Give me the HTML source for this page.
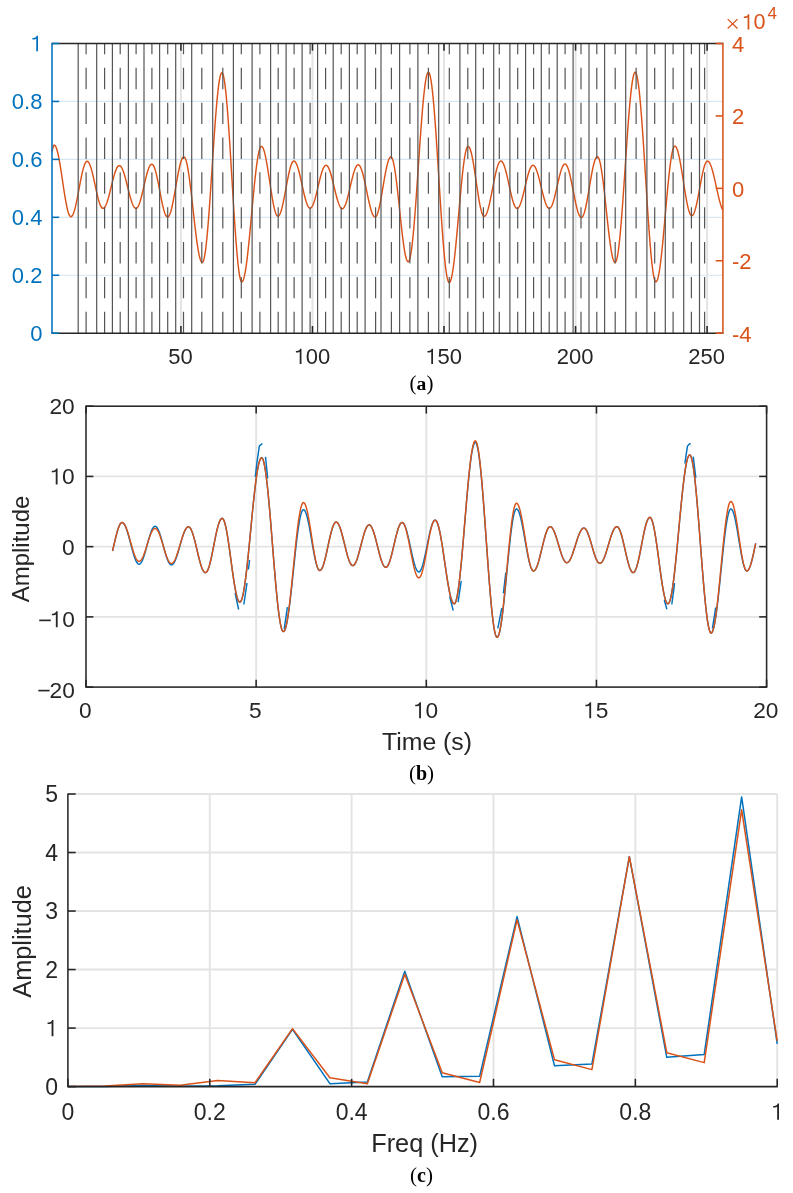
<!DOCTYPE html>
<html><head><meta charset="utf-8"><title>Figure</title>
<style>html,body{margin:0;padding:0;background:#fff;}svg{display:block;will-change:transform;}</style></head>
<body><svg width="793" height="1193" viewBox="0 0 793 1193">
<rect width="793" height="1193" fill="#fff"/>
<line x1="180.92" y1="43.5" x2="180.92" y2="333.2" stroke="#e3e3e3" stroke-width="1.9" />
<line x1="312.47" y1="43.5" x2="312.47" y2="333.2" stroke="#e3e3e3" stroke-width="1.9" />
<line x1="444.02" y1="43.5" x2="444.02" y2="333.2" stroke="#e3e3e3" stroke-width="1.9" />
<line x1="575.57" y1="43.5" x2="575.57" y2="333.2" stroke="#e3e3e3" stroke-width="1.9" />
<line x1="707.11" y1="43.5" x2="707.11" y2="333.2" stroke="#e3e3e3" stroke-width="1.9" />
<line x1="52" y1="275.26" x2="722.9" y2="275.26" stroke="#d6e6f2" stroke-width="1.2" />
<line x1="52" y1="217.32" x2="722.9" y2="217.32" stroke="#d6e6f2" stroke-width="1.2" />
<line x1="52" y1="159.38" x2="722.9" y2="159.38" stroke="#d6e6f2" stroke-width="1.2" />
<line x1="52" y1="101.44" x2="722.9" y2="101.44" stroke="#d6e6f2" stroke-width="1.2" />
<path d="M52 151.8 L52.09 151.46 L52.61 149.14 L53.14 147.06 L53.67 145.61 L54.2 145.1 L54.71 145.26 L55.21 145.75 L55.72 146.55 L56.22 147.66 L56.73 149.08 L57.24 150.78 L57.74 152.76 L58.25 154.99 L58.75 157.46 L59.26 160.13 L59.77 163 L60.27 166.03 L60.78 169.19 L61.28 172.46 L61.79 175.81 L62.3 179.2 L62.8 182.6 L63.31 185.99 L63.82 189.34 L64.32 192.61 L64.83 195.77 L65.33 198.8 L65.84 201.67 L66.35 204.34 L66.85 206.81 L67.36 209.04 L67.86 211.02 L68.37 212.72 L68.88 214.14 L69.38 215.25 L69.89 216.05 L70.39 216.54 L70.9 216.7 L71.41 216.57 L71.91 216.17 L72.42 215.51 L72.93 214.59 L73.43 213.43 L73.94 212.03 L74.44 210.41 L74.95 208.59 L75.46 206.57 L75.96 204.39 L76.47 202.06 L76.97 199.6 L77.48 197.04 L77.99 194.4 L78.49 191.72 L79 189 L79.51 186.28 L80.01 183.6 L80.52 180.96 L81.03 178.4 L81.53 175.94 L82.04 173.61 L82.54 171.43 L83.05 169.41 L83.56 167.59 L84.06 165.97 L84.57 164.57 L85.07 163.41 L85.58 162.49 L86.09 161.83 L86.59 161.43 L87.1 161.3 L87.61 161.42 L88.13 161.78 L88.64 162.38 L89.15 163.21 L89.66 164.26 L90.18 165.52 L90.69 166.98 L91.2 168.62 L91.72 170.43 L92.23 172.39 L92.74 174.48 L93.25 176.67 L93.77 178.95 L94.28 181.28 L94.79 183.66 L95.31 186.04 L95.82 188.42 L96.33 190.75 L96.85 193.03 L97.36 195.22 L97.87 197.31 L98.38 199.27 L98.9 201.08 L99.41 202.72 L99.92 204.18 L100.44 205.44 L100.95 206.49 L101.46 207.32 L101.97 207.92 L102.49 208.28 L103 208.4 L103.51 208.3 L104.02 207.99 L104.53 207.48 L105.04 206.77 L105.55 205.87 L106.06 204.79 L106.57 203.54 L107.08 202.13 L107.58 200.58 L108.09 198.89 L108.6 197.09 L109.11 195.19 L109.62 193.21 L110.13 191.17 L110.64 189.1 L111.15 187 L111.66 184.9 L112.17 182.83 L112.68 180.79 L113.19 178.81 L113.7 176.91 L114.21 175.11 L114.72 173.42 L115.22 171.87 L115.73 170.46 L116.24 169.21 L116.75 168.13 L117.26 167.23 L117.77 166.52 L118.28 166.01 L118.79 165.7 L119.3 165.6 L119.81 165.7 L120.31 165.99 L120.82 166.47 L121.32 167.13 L121.83 167.98 L122.34 169 L122.84 170.18 L123.35 171.51 L123.85 172.99 L124.36 174.59 L124.87 176.3 L125.37 178.11 L125.88 180 L126.38 181.95 L126.89 183.95 L127.4 185.98 L127.9 188.02 L128.41 190.05 L128.92 192.05 L129.42 194 L129.93 195.89 L130.43 197.7 L130.94 199.41 L131.45 201.01 L131.95 202.49 L132.46 203.82 L132.96 205 L133.47 206.02 L133.98 206.87 L134.48 207.53 L134.99 208.01 L135.49 208.3 L136 208.4 L136.51 208.29 L137.02 207.95 L137.53 207.39 L138.04 206.61 L138.55 205.62 L139.06 204.44 L139.57 203.07 L140.08 201.53 L140.59 199.83 L141.1 197.99 L141.61 196.03 L142.12 193.98 L142.63 191.84 L143.14 189.65 L143.65 187.42 L144.15 185.18 L144.66 182.95 L145.17 180.76 L145.68 178.62 L146.19 176.57 L146.7 174.61 L147.21 172.77 L147.72 171.07 L148.23 169.53 L148.74 168.16 L149.25 166.98 L149.76 165.99 L150.27 165.21 L150.78 164.65 L151.29 164.31 L151.8 164.2 L152.31 164.34 L152.82 164.74 L153.33 165.41 L153.84 166.34 L154.35 167.52 L154.86 168.93 L155.37 170.57 L155.88 172.41 L156.39 174.44 L156.9 176.64 L157.41 178.97 L157.92 181.43 L158.43 183.98 L158.94 186.6 L159.45 189.26 L159.95 191.94 L160.46 194.6 L160.97 197.22 L161.48 199.77 L161.99 202.23 L162.5 204.56 L163.01 206.76 L163.52 208.79 L164.03 210.63 L164.54 212.27 L165.05 213.68 L165.56 214.86 L166.07 215.79 L166.58 216.46 L167.09 216.86 L167.6 217 L168.11 216.86 L168.62 216.42 L169.13 215.71 L169.64 214.71 L170.15 213.45 L170.66 211.94 L171.17 210.18 L171.68 208.2 L172.18 206.01 L172.69 203.64 L173.2 201.12 L173.71 198.45 L174.22 195.67 L174.73 192.81 L175.24 189.9 L175.75 186.95 L176.26 184 L176.77 181.09 L177.28 178.23 L177.79 175.45 L178.3 172.78 L178.81 170.26 L179.32 167.89 L179.82 165.7 L180.33 163.72 L180.84 161.96 L181.35 160.45 L181.86 159.19 L182.37 158.19 L182.88 157.48 L183.39 157.04 L183.9 156.9 L184.41 157.1 L184.92 157.7 L185.43 158.7 L185.94 160.08 L186.46 161.85 L186.97 163.97 L187.48 166.45 L187.99 169.25 L188.5 172.36 L189.01 175.76 L189.52 179.42 L190.03 183.3 L190.54 187.39 L191.06 191.64 L191.57 196.03 L192.08 200.53 L192.59 205.1 L193.1 209.7 L193.61 214.3 L194.12 218.87 L194.63 223.37 L195.14 227.76 L195.66 232.01 L196.17 236.1 L196.68 239.98 L197.19 243.64 L197.7 247.04 L198.21 250.15 L198.72 252.95 L199.23 255.43 L199.74 257.55 L200.26 259.32 L200.77 260.7 L201.28 261.7 L201.79 262.3 L202.3 262.5 L202.8 262.19 L203.31 261.27 L203.81 259.74 L204.31 257.62 L204.81 254.91 L205.32 251.63 L205.82 247.81 L206.32 243.47 L206.82 238.63 L207.33 233.34 L207.83 227.62 L208.33 221.51 L208.83 215.05 L209.34 208.28 L209.84 201.25 L210.34 194 L210.84 186.58 L211.35 179.04 L211.85 171.42 L212.35 163.78 L212.85 156.16 L213.36 148.62 L213.86 141.2 L214.36 133.95 L214.86 126.92 L215.37 120.15 L215.87 113.69 L216.37 107.58 L216.87 101.86 L217.38 96.57 L217.88 91.73 L218.38 87.39 L218.88 83.57 L219.39 80.29 L219.89 77.58 L220.39 75.46 L220.89 73.93 L221.4 73.01 L221.9 72.7 L222.41 73.04 L222.92 74.05 L223.43 75.74 L223.94 78.08 L224.45 81.07 L224.96 84.68 L225.47 88.89 L225.98 93.68 L226.49 99.01 L227 104.84 L227.51 111.15 L228.02 117.88 L228.53 125 L229.04 132.46 L229.55 140.21 L230.06 148.2 L230.57 156.38 L231.08 164.69 L231.59 173.09 L232.11 181.51 L232.62 189.91 L233.13 198.22 L233.64 206.4 L234.15 214.39 L234.66 222.14 L235.17 229.6 L235.68 236.72 L236.19 243.45 L236.7 249.76 L237.21 255.59 L237.72 260.92 L238.23 265.71 L238.74 269.92 L239.25 273.53 L239.76 276.52 L240.27 278.86 L240.78 280.55 L241.29 281.56 L241.8 281.9 L242.3 281.68 L242.81 281.02 L243.31 279.93 L243.81 278.41 L244.31 276.48 L244.82 274.14 L245.32 271.41 L245.82 268.31 L246.32 264.86 L246.83 261.08 L247.33 257 L247.83 252.64 L248.33 248.02 L248.84 243.19 L249.34 238.17 L249.84 233 L250.34 227.7 L250.85 222.32 L251.35 216.88 L251.85 211.42 L252.35 205.98 L252.86 200.6 L253.36 195.3 L253.86 190.13 L254.36 185.11 L254.87 180.28 L255.37 175.66 L255.87 171.3 L256.37 167.22 L256.88 163.44 L257.38 159.99 L257.88 156.89 L258.38 154.16 L258.89 151.82 L259.39 149.89 L259.89 148.37 L260.39 147.28 L260.9 146.62 L261.4 146.4 L261.9 146.56 L262.4 147.03 L262.9 147.81 L263.4 148.9 L263.9 150.28 L264.4 151.94 L264.9 153.87 L265.4 156.04 L265.9 158.45 L266.4 161.06 L266.9 163.85 L267.4 166.8 L267.9 169.89 L268.4 173.07 L268.9 176.33 L269.4 179.64 L269.9 182.96 L270.4 186.27 L270.9 189.53 L271.4 192.71 L271.9 195.8 L272.4 198.75 L272.9 201.54 L273.4 204.15 L273.9 206.56 L274.4 208.73 L274.9 210.66 L275.4 212.32 L275.9 213.7 L276.4 214.79 L276.9 215.57 L277.4 216.04 L277.9 216.2 L278.4 216.07 L278.9 215.67 L279.4 215.01 L279.9 214.1 L280.4 212.94 L280.9 211.55 L281.4 209.94 L281.9 208.12 L282.4 206.11 L282.9 203.93 L283.4 201.61 L283.9 199.16 L284.4 196.61 L284.9 193.98 L285.4 191.31 L285.9 188.6 L286.4 185.89 L286.9 183.22 L287.4 180.59 L287.9 178.04 L288.4 175.59 L288.9 173.27 L289.4 171.09 L289.9 169.08 L290.4 167.26 L290.9 165.65 L291.4 164.26 L291.9 163.1 L292.4 162.19 L292.9 161.53 L293.4 161.13 L293.9 161 L294.41 161.11 L294.91 161.45 L295.42 162.02 L295.92 162.8 L296.43 163.79 L296.94 164.98 L297.44 166.36 L297.95 167.91 L298.46 169.63 L298.96 171.49 L299.47 173.48 L299.98 175.57 L300.48 177.75 L300.99 180 L301.49 182.29 L302 184.6 L302.51 186.91 L303.01 189.2 L303.52 191.45 L304.02 193.63 L304.53 195.72 L305.04 197.71 L305.54 199.57 L306.05 201.29 L306.56 202.84 L307.06 204.22 L307.57 205.41 L308.08 206.4 L308.58 207.18 L309.09 207.75 L309.59 208.09 L310.1 208.2 L310.61 208.09 L311.13 207.76 L311.64 207.22 L312.15 206.46 L312.66 205.5 L313.18 204.36 L313.69 203.03 L314.2 201.53 L314.72 199.88 L315.23 198.1 L315.74 196.2 L316.25 194.2 L316.77 192.13 L317.28 190 L317.79 187.84 L318.31 185.66 L318.82 183.5 L319.33 181.37 L319.85 179.3 L320.36 177.3 L320.87 175.4 L321.38 173.62 L321.9 171.97 L322.41 170.47 L322.92 169.14 L323.44 168 L323.95 167.04 L324.46 166.28 L324.97 165.74 L325.49 165.41 L326 165.3 L326.51 165.4 L327.02 165.72 L327.53 166.23 L328.04 166.95 L328.55 167.86 L329.06 168.96 L329.57 170.23 L330.07 171.66 L330.58 173.23 L331.09 174.94 L331.6 176.77 L332.11 178.7 L332.62 180.7 L333.13 182.77 L333.64 184.87 L334.15 187 L334.66 189.13 L335.17 191.23 L335.68 193.3 L336.19 195.3 L336.7 197.23 L337.21 199.06 L337.72 200.77 L338.23 202.34 L338.73 203.77 L339.24 205.04 L339.75 206.14 L340.26 207.05 L340.77 207.77 L341.28 208.28 L341.79 208.6 L342.3 208.7 L342.81 208.59 L343.33 208.25 L343.84 207.69 L344.35 206.92 L344.86 205.94 L345.38 204.77 L345.89 203.4 L346.4 201.87 L346.92 200.19 L347.43 198.36 L347.94 196.42 L348.45 194.37 L348.97 192.25 L349.48 190.07 L349.99 187.86 L350.51 185.64 L351.02 183.43 L351.53 181.25 L352.05 179.13 L352.56 177.08 L353.07 175.14 L353.58 173.31 L354.1 171.63 L354.61 170.1 L355.12 168.73 L355.64 167.56 L356.15 166.58 L356.66 165.81 L357.17 165.25 L357.69 164.91 L358.2 164.8 L358.71 164.92 L359.22 165.27 L359.74 165.86 L360.25 166.67 L360.76 167.7 L361.27 168.94 L361.78 170.38 L362.3 172.01 L362.81 173.81 L363.32 175.76 L363.83 177.85 L364.35 180.06 L364.86 182.36 L365.37 184.75 L365.88 187.19 L366.39 189.66 L366.91 192.14 L367.42 194.61 L367.93 197.05 L368.44 199.44 L368.95 201.74 L369.47 203.95 L369.98 206.04 L370.49 207.99 L371 209.79 L371.52 211.42 L372.03 212.86 L372.54 214.1 L373.05 215.13 L373.56 215.94 L374.08 216.53 L374.59 216.88 L375.1 217 L375.61 216.85 L376.12 216.38 L376.63 215.62 L377.14 214.56 L377.65 213.22 L378.16 211.61 L378.67 209.75 L379.18 207.65 L379.69 205.34 L380.2 202.85 L380.71 200.18 L381.22 197.39 L381.73 194.48 L382.24 191.5 L382.75 188.47 L383.25 185.43 L383.76 182.4 L384.27 179.42 L384.78 176.51 L385.29 173.72 L385.8 171.05 L386.31 168.56 L386.82 166.25 L387.33 164.15 L387.84 162.29 L388.35 160.68 L388.86 159.34 L389.37 158.28 L389.88 157.52 L390.39 157.05 L390.9 156.9 L391.41 157.12 L391.92 157.79 L392.43 158.9 L392.94 160.44 L393.44 162.4 L393.95 164.76 L394.46 167.49 L394.97 170.59 L395.48 174.01 L395.99 177.74 L396.5 181.74 L397.01 185.97 L397.51 190.4 L398.02 195 L398.53 199.71 L399.04 204.51 L399.55 209.35 L400.06 214.19 L400.57 218.99 L401.08 223.7 L401.59 228.3 L402.09 232.73 L402.6 236.96 L403.11 240.96 L403.62 244.69 L404.13 248.11 L404.64 251.21 L405.15 253.94 L405.66 256.3 L406.16 258.26 L406.67 259.8 L407.18 260.91 L407.69 261.58 L408.2 261.8 L408.7 261.51 L409.21 260.63 L409.71 259.18 L410.22 257.16 L410.72 254.58 L411.23 251.47 L411.74 247.83 L412.24 243.69 L412.75 239.09 L413.25 234.03 L413.75 228.57 L414.26 222.72 L414.76 216.53 L415.27 210.04 L415.77 203.28 L416.28 196.29 L416.78 189.13 L417.29 181.83 L417.79 174.44 L418.3 167 L418.81 159.56 L419.31 152.17 L419.81 144.87 L420.32 137.71 L420.82 130.72 L421.33 123.96 L421.83 117.47 L422.34 111.28 L422.84 105.43 L423.35 99.97 L423.85 94.91 L424.36 90.31 L424.86 86.17 L425.37 82.53 L425.88 79.42 L426.38 76.84 L426.88 74.82 L427.39 73.37 L427.89 72.49 L428.4 72.2 L428.91 72.51 L429.41 73.43 L429.92 74.97 L430.43 77.1 L430.94 79.83 L431.44 83.12 L431.95 86.97 L432.46 91.35 L432.97 96.24 L433.47 101.6 L433.98 107.41 L434.49 113.63 L435 120.22 L435.5 127.14 L436.01 134.37 L436.52 141.84 L437.02 149.52 L437.53 157.37 L438.04 165.34 L438.55 173.37 L439.05 181.43 L439.56 189.46 L440.07 197.43 L440.58 205.28 L441.08 212.96 L441.59 220.43 L442.1 227.66 L442.6 234.58 L443.11 241.17 L443.62 247.39 L444.13 253.2 L444.63 258.56 L445.14 263.45 L445.65 267.83 L446.16 271.68 L446.66 274.97 L447.17 277.7 L447.68 279.83 L448.19 281.37 L448.69 282.29 L449.2 282.6 L449.71 282.35 L450.22 281.62 L450.73 280.4 L451.24 278.71 L451.75 276.55 L452.26 273.95 L452.78 270.92 L453.29 267.48 L453.8 263.67 L454.31 259.49 L454.82 254.99 L455.33 250.21 L455.84 245.16 L456.35 239.89 L456.86 234.44 L457.37 228.85 L457.88 223.15 L458.39 217.39 L458.91 211.61 L459.42 205.85 L459.93 200.15 L460.44 194.56 L460.95 189.11 L461.46 183.84 L461.97 178.79 L462.48 174.01 L462.99 169.51 L463.5 165.33 L464.01 161.52 L464.52 158.08 L465.04 155.05 L465.55 152.45 L466.06 150.29 L466.57 148.6 L467.08 147.38 L467.59 146.65 L468.1 146.4 L468.6 146.57 L469.11 147.07 L469.61 147.9 L470.11 149.06 L470.62 150.53 L471.12 152.29 L471.62 154.33 L472.12 156.64 L472.63 159.18 L473.13 161.93 L473.63 164.87 L474.14 167.98 L474.64 171.2 L475.14 174.53 L475.65 177.92 L476.15 181.35 L476.65 184.78 L477.16 188.17 L477.66 191.5 L478.16 194.72 L478.67 197.83 L479.17 200.77 L479.67 203.52 L480.18 206.06 L480.68 208.37 L481.18 210.41 L481.68 212.17 L482.19 213.64 L482.69 214.8 L483.19 215.63 L483.7 216.13 L484.2 216.3 L484.71 216.17 L485.21 215.8 L485.72 215.18 L486.22 214.32 L486.73 213.23 L487.24 211.91 L487.74 210.38 L488.25 208.66 L488.75 206.76 L489.26 204.69 L489.77 202.48 L490.27 200.14 L490.78 197.69 L491.28 195.17 L491.79 192.59 L492.3 189.97 L492.8 187.33 L493.31 184.71 L493.82 182.13 L494.32 179.61 L494.83 177.16 L495.33 174.83 L495.84 172.61 L496.35 170.54 L496.85 168.64 L497.36 166.92 L497.86 165.39 L498.37 164.07 L498.88 162.98 L499.38 162.12 L499.89 161.5 L500.39 161.13 L500.9 161 L501.41 161.11 L501.91 161.46 L502.42 162.02 L502.92 162.8 L503.43 163.8 L503.94 164.99 L504.44 166.38 L504.95 167.94 L505.46 169.66 L505.96 171.53 L506.47 173.53 L506.98 175.63 L507.48 177.82 L507.99 180.08 L508.49 182.38 L509 184.7 L509.51 187.02 L510.01 189.32 L510.52 191.58 L511.02 193.77 L511.53 195.87 L512.04 197.87 L512.54 199.74 L513.05 201.46 L513.56 203.02 L514.06 204.41 L514.57 205.6 L515.08 206.6 L515.58 207.38 L516.09 207.94 L516.59 208.29 L517.1 208.4 L517.61 208.29 L518.13 207.96 L518.64 207.41 L519.15 206.65 L519.66 205.69 L520.18 204.54 L520.69 203.2 L521.2 201.7 L521.72 200.04 L522.23 198.25 L522.74 196.34 L523.25 194.33 L523.77 192.25 L524.28 190.11 L524.79 187.94 L525.31 185.76 L525.82 183.59 L526.33 181.45 L526.85 179.37 L527.36 177.36 L527.87 175.45 L528.38 173.66 L528.9 172 L529.41 170.5 L529.92 169.16 L530.44 168.01 L530.95 167.05 L531.46 166.29 L531.97 165.74 L532.49 165.41 L533 165.3 L533.51 165.4 L534.02 165.71 L534.53 166.23 L535.04 166.94 L535.55 167.84 L536.06 168.93 L536.57 170.19 L537.08 171.61 L537.58 173.18 L538.09 174.88 L538.6 176.69 L539.11 178.6 L539.62 180.59 L540.13 182.65 L540.64 184.74 L541.15 186.85 L541.66 188.96 L542.17 191.05 L542.68 193.11 L543.19 195.1 L543.7 197.01 L544.21 198.82 L544.72 200.52 L545.22 202.09 L545.73 203.51 L546.24 204.77 L546.75 205.86 L547.26 206.76 L547.77 207.47 L548.28 207.99 L548.79 208.3 L549.3 208.4 L549.81 208.29 L550.31 207.95 L550.82 207.38 L551.33 206.6 L551.83 205.61 L552.34 204.42 L552.85 203.04 L553.35 201.5 L553.86 199.79 L554.36 197.94 L554.87 195.98 L555.38 193.91 L555.88 191.76 L556.39 189.56 L556.9 187.32 L557.4 185.08 L557.91 182.84 L558.42 180.64 L558.92 178.49 L559.43 176.42 L559.94 174.46 L560.44 172.61 L560.95 170.9 L561.45 169.36 L561.96 167.98 L562.47 166.79 L562.97 165.8 L563.48 165.02 L563.99 164.45 L564.49 164.11 L565 164 L565.51 164.13 L566.02 164.51 L566.54 165.15 L567.05 166.04 L567.56 167.16 L568.08 168.51 L568.59 170.07 L569.1 171.83 L569.61 173.78 L570.12 175.89 L570.64 178.14 L571.15 180.51 L571.66 182.98 L572.17 185.53 L572.69 188.13 L573.2 190.75 L573.71 193.37 L574.23 195.97 L574.74 198.52 L575.25 200.99 L575.76 203.36 L576.27 205.61 L576.79 207.72 L577.3 209.67 L577.81 211.43 L578.32 212.99 L578.84 214.34 L579.35 215.46 L579.86 216.35 L580.38 216.99 L580.89 217.37 L581.4 217.5 L581.9 217.35 L582.4 216.92 L582.9 216.19 L583.4 215.19 L583.9 213.91 L584.4 212.38 L584.9 210.6 L585.4 208.6 L585.9 206.39 L586.4 203.99 L586.9 201.43 L587.4 198.73 L587.9 195.92 L588.4 193.03 L588.9 190.08 L589.4 187.1 L589.9 184.12 L590.4 181.17 L590.9 178.28 L591.4 175.47 L591.9 172.77 L592.4 170.21 L592.9 167.81 L593.4 165.6 L593.9 163.6 L594.4 161.82 L594.9 160.29 L595.4 159.01 L595.9 158.01 L596.4 157.28 L596.9 156.85 L597.4 156.7 L597.91 156.91 L598.41 157.55 L598.92 158.61 L599.42 160.07 L599.93 161.94 L600.43 164.19 L600.94 166.8 L601.45 169.76 L601.95 173.04 L602.46 176.62 L602.96 180.46 L603.47 184.53 L603.97 188.81 L604.48 193.25 L604.99 197.83 L605.49 202.5 L606 207.23 L606.5 211.97 L607.01 216.7 L607.51 221.37 L608.02 225.95 L608.53 230.39 L609.03 234.67 L609.54 238.74 L610.04 242.58 L610.55 246.16 L611.05 249.44 L611.56 252.4 L612.07 255.01 L612.57 257.26 L613.08 259.13 L613.58 260.59 L614.09 261.65 L614.59 262.29 L615.1 262.5 L615.6 262.21 L616.11 261.33 L616.61 259.87 L617.11 257.84 L617.61 255.26 L618.12 252.13 L618.62 248.48 L619.12 244.33 L619.62 239.7 L620.12 234.63 L620.63 229.14 L621.13 223.28 L621.63 217.07 L622.13 210.55 L622.64 203.76 L623.14 196.75 L623.64 189.56 L624.14 182.23 L624.65 174.82 L625.15 167.35 L625.65 159.88 L626.16 152.47 L626.66 145.14 L627.16 137.95 L627.66 130.94 L628.17 124.15 L628.67 117.63 L629.17 111.42 L629.67 105.56 L630.18 100.07 L630.68 95 L631.18 90.37 L631.68 86.22 L632.19 82.57 L632.69 79.44 L633.19 76.86 L633.69 74.83 L634.2 73.37 L634.7 72.49 L635.2 72.2 L635.7 72.51 L636.21 73.43 L636.71 74.96 L637.22 77.09 L637.72 79.8 L638.23 83.09 L638.73 86.92 L639.24 91.29 L639.74 96.16 L640.25 101.5 L640.75 107.29 L641.26 113.49 L641.76 120.06 L642.27 126.96 L642.77 134.16 L643.28 141.61 L643.78 149.27 L644.29 157.09 L644.79 165.03 L645.3 173.03 L645.8 181.07 L646.31 189.07 L646.81 197.01 L647.32 204.83 L647.82 212.49 L648.33 219.94 L648.83 227.14 L649.34 234.04 L649.84 240.61 L650.35 246.81 L650.85 252.6 L651.36 257.94 L651.86 262.81 L652.37 267.18 L652.87 271.01 L653.38 274.3 L653.88 277.01 L654.39 279.14 L654.89 280.67 L655.4 281.59 L655.9 281.9 L656.41 281.66 L656.92 280.92 L657.43 279.71 L657.94 278.02 L658.45 275.87 L658.96 273.28 L659.48 270.26 L659.99 266.83 L660.5 263.02 L661.01 258.86 L661.52 254.38 L662.03 249.6 L662.54 244.57 L663.05 239.32 L663.56 233.88 L664.07 228.31 L664.58 222.62 L665.09 216.88 L665.61 211.12 L666.12 205.38 L666.63 199.69 L667.14 194.12 L667.65 188.68 L668.16 183.43 L668.67 178.4 L669.18 173.62 L669.69 169.14 L670.2 164.98 L670.71 161.17 L671.22 157.74 L671.74 154.72 L672.25 152.13 L672.76 149.98 L673.27 148.29 L673.78 147.08 L674.29 146.34 L674.8 146.1 L675.3 146.25 L675.8 146.69 L676.3 147.43 L676.8 148.45 L677.3 149.75 L677.8 151.31 L678.3 153.13 L678.8 155.18 L679.3 157.46 L679.8 159.93 L680.3 162.58 L680.8 165.39 L681.3 168.33 L681.8 171.38 L682.3 174.51 L682.8 177.69 L683.3 180.9 L683.8 184.11 L684.3 187.29 L684.8 190.42 L685.3 193.47 L685.8 196.41 L686.3 199.22 L686.8 201.87 L687.3 204.34 L687.8 206.62 L688.3 208.67 L688.8 210.49 L689.3 212.05 L689.8 213.35 L690.3 214.37 L690.8 215.11 L691.3 215.55 L691.8 215.7 L692.31 215.56 L692.81 215.14 L693.32 214.45 L693.83 213.49 L694.33 212.27 L694.84 210.81 L695.35 209.11 L695.85 207.21 L696.36 205.11 L696.86 202.84 L697.37 200.42 L697.88 197.88 L698.38 195.24 L698.89 192.53 L699.4 189.78 L699.9 187.02 L700.41 184.27 L700.92 181.56 L701.42 178.92 L701.93 176.38 L702.44 173.96 L702.94 171.69 L703.45 169.59 L703.95 167.69 L704.46 165.99 L704.97 164.53 L705.47 163.31 L705.98 162.35 L706.49 161.66 L706.99 161.24 L707.5 161.1 L708 161.2 L708.5 161.51 L709 162.02 L709.5 162.72 L710 163.62 L710.5 164.7 L711 165.96 L711.5 167.38 L712 168.96 L712.5 170.68 L713 172.53 L713.5 174.49 L714 176.55 L714.5 178.69 L715 180.89 L715.5 183.13 L716 185.41 L716.5 187.69 L717 189.97 L717.5 192.21 L718 194.41 L718.5 196.55 L719 198.61 L719.5 200.57 L720 202.42 L720.5 204.14 L721 205.72 L721.5 207.14 L722 208.4 L722.5 209.48 L722.9 210.2" fill="none" stroke="#D95319" stroke-width="1.45" stroke-linejoin="round" />
<line x1="78.2" y1="333.2" x2="78.2" y2="43.5" stroke="#555555" stroke-width="1.2" />
<line x1="96.7" y1="333.2" x2="96.7" y2="43.5" stroke="#555555" stroke-width="1.2" />
<line x1="112.4" y1="333.2" x2="112.4" y2="43.5" stroke="#555555" stroke-width="1.2" />
<line x1="128.4" y1="333.2" x2="128.4" y2="43.5" stroke="#555555" stroke-width="1.2" />
<line x1="144" y1="333.2" x2="144" y2="43.5" stroke="#555555" stroke-width="1.2" />
<line x1="159.6" y1="333.2" x2="159.6" y2="43.5" stroke="#555555" stroke-width="1.2" />
<line x1="175.7" y1="333.2" x2="175.7" y2="43.5" stroke="#555555" stroke-width="1.2" />
<line x1="191.7" y1="333.2" x2="191.7" y2="43.5" stroke="#555555" stroke-width="1.2" />
<line x1="212.7" y1="333.2" x2="212.7" y2="43.5" stroke="#555555" stroke-width="1.2" />
<line x1="233.4" y1="333.2" x2="233.4" y2="43.5" stroke="#555555" stroke-width="1.2" />
<line x1="252.1" y1="333.2" x2="252.1" y2="43.5" stroke="#555555" stroke-width="1.2" />
<line x1="270.6" y1="333.2" x2="270.6" y2="43.5" stroke="#555555" stroke-width="1.2" />
<line x1="286.1" y1="333.2" x2="286.1" y2="43.5" stroke="#555555" stroke-width="1.2" />
<line x1="302.1" y1="333.2" x2="302.1" y2="43.5" stroke="#555555" stroke-width="1.2" />
<line x1="317.6" y1="333.2" x2="317.6" y2="43.5" stroke="#555555" stroke-width="1.2" />
<line x1="333.2" y1="333.2" x2="333.2" y2="43.5" stroke="#555555" stroke-width="1.2" />
<line x1="349.4" y1="333.2" x2="349.4" y2="43.5" stroke="#555555" stroke-width="1.2" />
<line x1="365.1" y1="333.2" x2="365.1" y2="43.5" stroke="#555555" stroke-width="1.2" />
<line x1="381" y1="333.2" x2="381" y2="43.5" stroke="#555555" stroke-width="1.2" />
<line x1="399.6" y1="333.2" x2="399.6" y2="43.5" stroke="#555555" stroke-width="1.2" />
<line x1="417.9" y1="333.2" x2="417.9" y2="43.5" stroke="#555555" stroke-width="1.2" />
<line x1="438.7" y1="333.2" x2="438.7" y2="43.5" stroke="#555555" stroke-width="1.2" />
<line x1="459.9" y1="333.2" x2="459.9" y2="43.5" stroke="#555555" stroke-width="1.2" />
<line x1="475.7" y1="333.2" x2="475.7" y2="43.5" stroke="#555555" stroke-width="1.2" />
<line x1="493.7" y1="333.2" x2="493.7" y2="43.5" stroke="#555555" stroke-width="1.2" />
<line x1="509.9" y1="333.2" x2="509.9" y2="43.5" stroke="#555555" stroke-width="1.2" />
<line x1="525.6" y1="333.2" x2="525.6" y2="43.5" stroke="#555555" stroke-width="1.2" />
<line x1="541.3" y1="333.2" x2="541.3" y2="43.5" stroke="#555555" stroke-width="1.2" />
<line x1="557.2" y1="333.2" x2="557.2" y2="43.5" stroke="#555555" stroke-width="1.2" />
<line x1="573.1" y1="333.2" x2="573.1" y2="43.5" stroke="#555555" stroke-width="1.2" />
<line x1="589" y1="333.2" x2="589" y2="43.5" stroke="#555555" stroke-width="1.2" />
<line x1="604.6" y1="333.2" x2="604.6" y2="43.5" stroke="#555555" stroke-width="1.2" />
<line x1="625.7" y1="333.2" x2="625.7" y2="43.5" stroke="#555555" stroke-width="1.2" />
<line x1="646.9" y1="333.2" x2="646.9" y2="43.5" stroke="#555555" stroke-width="1.2" />
<line x1="665.3" y1="333.2" x2="665.3" y2="43.5" stroke="#555555" stroke-width="1.2" />
<line x1="683.7" y1="333.2" x2="683.7" y2="43.5" stroke="#555555" stroke-width="1.2" />
<line x1="699.5" y1="333.2" x2="699.5" y2="43.5" stroke="#555555" stroke-width="1.2" />
<line x1="86.1" y1="333.2" x2="86.1" y2="43.5" stroke="#555555" stroke-width="1.2" stroke-dasharray="21.4 13.46"/>
<line x1="104.6" y1="333.2" x2="104.6" y2="43.5" stroke="#555555" stroke-width="1.2" stroke-dasharray="21.4 13.46"/>
<line x1="120.2" y1="333.2" x2="120.2" y2="43.5" stroke="#555555" stroke-width="1.2" stroke-dasharray="21.4 13.46"/>
<line x1="136.1" y1="333.2" x2="136.1" y2="43.5" stroke="#555555" stroke-width="1.2" stroke-dasharray="21.4 13.46"/>
<line x1="151.9" y1="333.2" x2="151.9" y2="43.5" stroke="#555555" stroke-width="1.2" stroke-dasharray="21.4 13.46"/>
<line x1="167.7" y1="333.2" x2="167.7" y2="43.5" stroke="#555555" stroke-width="1.2" stroke-dasharray="21.4 13.46"/>
<line x1="183.5" y1="333.2" x2="183.5" y2="43.5" stroke="#555555" stroke-width="1.2" stroke-dasharray="21.4 13.46"/>
<line x1="201.8" y1="333.2" x2="201.8" y2="43.5" stroke="#555555" stroke-width="1.2" stroke-dasharray="21.4 13.46"/>
<line x1="222.8" y1="333.2" x2="222.8" y2="43.5" stroke="#555555" stroke-width="1.2" stroke-dasharray="21.4 13.46"/>
<line x1="241.3" y1="333.2" x2="241.3" y2="43.5" stroke="#555555" stroke-width="1.2" stroke-dasharray="21.4 13.46"/>
<line x1="259.9" y1="333.2" x2="259.9" y2="43.5" stroke="#555555" stroke-width="1.2" stroke-dasharray="21.4 13.46"/>
<line x1="278.2" y1="333.2" x2="278.2" y2="43.5" stroke="#555555" stroke-width="1.2" stroke-dasharray="21.4 13.46"/>
<line x1="294.1" y1="333.2" x2="294.1" y2="43.5" stroke="#555555" stroke-width="1.2" stroke-dasharray="21.4 13.46"/>
<line x1="310.1" y1="333.2" x2="310.1" y2="43.5" stroke="#555555" stroke-width="1.2" stroke-dasharray="21.4 13.46"/>
<line x1="325.6" y1="333.2" x2="325.6" y2="43.5" stroke="#555555" stroke-width="1.2" stroke-dasharray="21.4 13.46"/>
<line x1="341.2" y1="333.2" x2="341.2" y2="43.5" stroke="#555555" stroke-width="1.2" stroke-dasharray="21.4 13.46"/>
<line x1="357.2" y1="333.2" x2="357.2" y2="43.5" stroke="#555555" stroke-width="1.2" stroke-dasharray="21.4 13.46"/>
<line x1="375.6" y1="333.2" x2="375.6" y2="43.5" stroke="#555555" stroke-width="1.2" stroke-dasharray="21.4 13.46"/>
<line x1="391.4" y1="333.2" x2="391.4" y2="43.5" stroke="#555555" stroke-width="1.2" stroke-dasharray="21.4 13.46"/>
<line x1="409.9" y1="333.2" x2="409.9" y2="43.5" stroke="#555555" stroke-width="1.2" stroke-dasharray="21.4 13.46"/>
<line x1="428.4" y1="333.2" x2="428.4" y2="43.5" stroke="#555555" stroke-width="1.2" stroke-dasharray="21.4 13.46"/>
<line x1="449.3" y1="333.2" x2="449.3" y2="43.5" stroke="#555555" stroke-width="1.2" stroke-dasharray="21.4 13.46"/>
<line x1="467.8" y1="333.2" x2="467.8" y2="43.5" stroke="#555555" stroke-width="1.2" stroke-dasharray="21.4 13.46"/>
<line x1="483.4" y1="333.2" x2="483.4" y2="43.5" stroke="#555555" stroke-width="1.2" stroke-dasharray="21.4 13.46"/>
<line x1="499.3" y1="333.2" x2="499.3" y2="43.5" stroke="#555555" stroke-width="1.2" stroke-dasharray="21.4 13.46"/>
<line x1="517.7" y1="333.2" x2="517.7" y2="43.5" stroke="#555555" stroke-width="1.2" stroke-dasharray="21.4 13.46"/>
<line x1="533.6" y1="333.2" x2="533.6" y2="43.5" stroke="#555555" stroke-width="1.2" stroke-dasharray="21.4 13.46"/>
<line x1="549.2" y1="333.2" x2="549.2" y2="43.5" stroke="#555555" stroke-width="1.2" stroke-dasharray="21.4 13.46"/>
<line x1="565.1" y1="333.2" x2="565.1" y2="43.5" stroke="#555555" stroke-width="1.2" stroke-dasharray="21.4 13.46"/>
<line x1="581" y1="333.2" x2="581" y2="43.5" stroke="#555555" stroke-width="1.2" stroke-dasharray="21.4 13.46"/>
<line x1="596.8" y1="333.2" x2="596.8" y2="43.5" stroke="#555555" stroke-width="1.2" stroke-dasharray="21.4 13.46"/>
<line x1="615.2" y1="333.2" x2="615.2" y2="43.5" stroke="#555555" stroke-width="1.2" stroke-dasharray="21.4 13.46"/>
<line x1="636.1" y1="333.2" x2="636.1" y2="43.5" stroke="#555555" stroke-width="1.2" stroke-dasharray="21.4 13.46"/>
<line x1="654.7" y1="333.2" x2="654.7" y2="43.5" stroke="#555555" stroke-width="1.2" stroke-dasharray="21.4 13.46"/>
<line x1="673.1" y1="333.2" x2="673.1" y2="43.5" stroke="#555555" stroke-width="1.2" stroke-dasharray="21.4 13.46"/>
<line x1="691.4" y1="333.2" x2="691.4" y2="43.5" stroke="#555555" stroke-width="1.2" stroke-dasharray="21.4 13.46"/>
<line x1="704.6" y1="333.2" x2="704.6" y2="43.5" stroke="#555555" stroke-width="1.2" stroke-dasharray="21.4 13.46"/>
<line x1="51.4" y1="43.5" x2="723.5" y2="43.5" stroke="#262626" stroke-width="1.55" />
<line x1="51.4" y1="333.2" x2="723.5" y2="333.2" stroke="#262626" stroke-width="1.55" />
<line x1="52" y1="43.5" x2="52" y2="333.2" stroke="#0072BD" stroke-width="1.55" />
<line x1="722.9" y1="43.5" x2="722.9" y2="333.2" stroke="#D95319" stroke-width="1.55" />
<line x1="180.92" y1="333.2" x2="180.92" y2="326" stroke="#262626" stroke-width="1.55" />
<line x1="180.92" y1="43.5" x2="180.92" y2="50.7" stroke="#262626" stroke-width="1.55" />
<text x="180.42" y="364.1" font-size="22" fill="#262626" text-anchor="middle" font-family='"Liberation Sans", sans-serif' >50</text>
<line x1="312.47" y1="333.2" x2="312.47" y2="326" stroke="#262626" stroke-width="1.55" />
<line x1="312.47" y1="43.5" x2="312.47" y2="50.7" stroke="#262626" stroke-width="1.55" />
<text x="311.97" y="364.1" font-size="22" fill="#262626" text-anchor="middle" font-family='"Liberation Sans", sans-serif' >&#8199;00</text><path d="M357 0L357 703L296 703C286 660 250 618 198 607C167 600 136 598 103 598L103 528C152 528 228 536 277 566L277 0Z" fill="#262626" transform="translate(293.61 364.1) scale(0.02200 -0.02200)"/>
<line x1="444.02" y1="333.2" x2="444.02" y2="326" stroke="#262626" stroke-width="1.55" />
<line x1="444.02" y1="43.5" x2="444.02" y2="50.7" stroke="#262626" stroke-width="1.55" />
<text x="443.52" y="364.1" font-size="22" fill="#262626" text-anchor="middle" font-family='"Liberation Sans", sans-serif' >&#8199;50</text><path d="M357 0L357 703L296 703C286 660 250 618 198 607C167 600 136 598 103 598L103 528C152 528 228 536 277 566L277 0Z" fill="#262626" transform="translate(425.16 364.1) scale(0.02200 -0.02200)"/>
<line x1="575.57" y1="333.2" x2="575.57" y2="326" stroke="#262626" stroke-width="1.55" />
<line x1="575.57" y1="43.5" x2="575.57" y2="50.7" stroke="#262626" stroke-width="1.55" />
<text x="575.07" y="364.1" font-size="22" fill="#262626" text-anchor="middle" font-family='"Liberation Sans", sans-serif' >200</text>
<line x1="707.11" y1="333.2" x2="707.11" y2="326" stroke="#262626" stroke-width="1.55" />
<line x1="707.11" y1="43.5" x2="707.11" y2="50.7" stroke="#262626" stroke-width="1.55" />
<text x="706.61" y="364.1" font-size="22" fill="#262626" text-anchor="middle" font-family='"Liberation Sans", sans-serif' >250</text>
<line x1="52" y1="333.2" x2="59.2" y2="333.2" stroke="#0072BD" stroke-width="1.55" />
<text x="42.4" y="340.9" font-size="22" fill="#0072BD" text-anchor="end" font-family='"Liberation Sans", sans-serif' >0</text>
<line x1="52" y1="275.26" x2="59.2" y2="275.26" stroke="#0072BD" stroke-width="1.55" />
<text x="42.4" y="282.96" font-size="22" fill="#0072BD" text-anchor="end" font-family='"Liberation Sans", sans-serif' >0.2</text>
<line x1="52" y1="217.32" x2="59.2" y2="217.32" stroke="#0072BD" stroke-width="1.55" />
<text x="42.4" y="225.02" font-size="22" fill="#0072BD" text-anchor="end" font-family='"Liberation Sans", sans-serif' >0.4</text>
<line x1="52" y1="159.38" x2="59.2" y2="159.38" stroke="#0072BD" stroke-width="1.55" />
<text x="42.4" y="167.08" font-size="22" fill="#0072BD" text-anchor="end" font-family='"Liberation Sans", sans-serif' >0.6</text>
<line x1="52" y1="101.44" x2="59.2" y2="101.44" stroke="#0072BD" stroke-width="1.55" />
<text x="42.4" y="109.14" font-size="22" fill="#0072BD" text-anchor="end" font-family='"Liberation Sans", sans-serif' >0.8</text>
<line x1="52" y1="43.5" x2="59.2" y2="43.5" stroke="#0072BD" stroke-width="1.55" />
<text x="42.4" y="51.2" font-size="22" fill="#0072BD" text-anchor="end" font-family='"Liberation Sans", sans-serif' >&#8199;</text><path d="M357 0L357 703L296 703C286 660 250 618 198 607C167 600 136 598 103 598L103 528C152 528 228 536 277 566L277 0Z" fill="#0072BD" transform="translate(30.16 51.2) scale(0.02200 -0.02200)"/>
<line x1="722.9" y1="333.2" x2="715.7" y2="333.2" stroke="#D95319" stroke-width="1.55" />
<text x="731.9" y="341.5" font-size="22" fill="#D95319" text-anchor="start" font-family='"Liberation Sans", sans-serif' >-4</text>
<line x1="722.9" y1="260.77" x2="715.7" y2="260.77" stroke="#D95319" stroke-width="1.55" />
<text x="731.9" y="269.07" font-size="22" fill="#D95319" text-anchor="start" font-family='"Liberation Sans", sans-serif' >-2</text>
<line x1="722.9" y1="188.35" x2="715.7" y2="188.35" stroke="#D95319" stroke-width="1.55" />
<text x="731.9" y="196.65" font-size="22" fill="#D95319" text-anchor="start" font-family='"Liberation Sans", sans-serif' >0</text>
<line x1="722.9" y1="115.92" x2="715.7" y2="115.92" stroke="#D95319" stroke-width="1.55" />
<text x="731.9" y="124.22" font-size="22" fill="#D95319" text-anchor="start" font-family='"Liberation Sans", sans-serif' >2</text>
<line x1="722.9" y1="43.5" x2="715.7" y2="43.5" stroke="#D95319" stroke-width="1.55" />
<text x="731.9" y="51.8" font-size="22" fill="#D95319" text-anchor="start" font-family='"Liberation Sans", sans-serif' >4</text>
<line x1="727.7" y1="19.1" x2="737.5" y2="28.5" stroke="#D95319" stroke-width="1.25" />
<line x1="737.5" y1="19.1" x2="727.7" y2="28.5" stroke="#D95319" stroke-width="1.25" />
<text x="741.6" y="29.4" font-size="21.6" fill="#D95319" text-anchor="start" font-family='"Liberation Sans", sans-serif' >&#8199;0</text><path d="M357 0L357 703L296 703C286 660 250 618 198 607C167 600 136 598 103 598L103 528C152 528 228 536 277 566L277 0Z" fill="#D95319" transform="translate(741.6 29.4) scale(0.02160 -0.02160)"/>
<text x="767.4" y="18.5" font-size="17" fill="#D95319" text-anchor="start" font-family='"Liberation Sans", sans-serif' >4</text>
<text x="421.5" y="390.4" font-size="21" fill="#000" text-anchor="middle" font-family='"Liberation Serif", serif'>(<tspan font-weight="bold" font-size="19.6">a</tspan>)</text>
<line x1="256.15" y1="406.2" x2="256.15" y2="687.1" stroke="#e3e3e3" stroke-width="1.9" />
<line x1="426.3" y1="406.2" x2="426.3" y2="687.1" stroke="#e3e3e3" stroke-width="1.9" />
<line x1="596.45" y1="406.2" x2="596.45" y2="687.1" stroke="#e3e3e3" stroke-width="1.9" />
<line x1="86" y1="616.88" x2="766.6" y2="616.88" stroke="#e3e3e3" stroke-width="1.9" />
<line x1="86" y1="546.65" x2="766.6" y2="546.65" stroke="#e3e3e3" stroke-width="1.9" />
<line x1="86" y1="476.42" x2="766.6" y2="476.42" stroke="#e3e3e3" stroke-width="1.9" />
<path d="M112.54 550.98 L112.88 549.54 L113.39 547.35 L113.9 545.14 L114.42 542.93 L114.93 540.74 L115.44 538.59 L115.95 536.5 L116.46 534.5 L116.97 532.6 L117.48 530.82 L117.99 529.18 L118.5 527.69 L119.01 526.37 L119.52 525.23 L120.03 524.28 L120.54 523.53 L121.05 523 L121.56 522.67 L122.07 522.56 L122.57 522.65 L123.07 522.92 L123.57 523.36 L124.07 523.97 L124.57 524.75 L125.07 525.68 L125.57 526.77 L126.08 528 L126.58 529.36 L127.08 530.84 L127.58 532.42 L128.08 534.1 L128.58 535.86 L129.08 537.69 L129.58 539.56 L130.08 541.46 L130.58 543.38 L131.08 545.31 L131.58 547.21 L132.08 549.08 L132.58 550.91 L133.08 552.67 L133.58 554.35 L134.08 555.93 L134.58 557.41 L135.08 558.77 L135.58 560 L136.08 561.09 L136.58 562.02 L137.09 562.8 L137.59 563.41 L138.09 563.85 L138.59 564.12 L139.09 564.21 L139.6 564.11 L140.12 563.82 L140.63 563.34 L141.15 562.67 L141.67 561.82 L142.18 560.81 L142.7 559.63 L143.21 558.31 L143.73 556.85 L144.25 555.28 L144.76 553.6 L145.28 551.83 L145.79 550 L146.31 548.12 L146.83 546.21 L147.34 544.29 L147.86 542.37 L148.37 540.49 L148.89 538.66 L149.41 536.9 L149.92 535.22 L150.44 533.64 L150.95 532.18 L151.47 530.86 L151.99 529.68 L152.5 528.67 L153.02 527.82 L153.53 527.15 L154.05 526.67 L154.56 526.38 L155.08 526.28 L155.59 526.38 L156.1 526.66 L156.61 527.12 L157.12 527.75 L157.63 528.57 L158.14 529.54 L158.65 530.67 L159.16 531.94 L159.67 533.35 L160.19 534.87 L160.7 536.49 L161.21 538.21 L161.72 539.99 L162.23 541.83 L162.74 543.7 L163.25 545.6 L163.76 547.49 L164.27 549.36 L164.78 551.2 L165.29 552.99 L165.8 554.7 L166.31 556.33 L166.82 557.85 L167.33 559.25 L167.84 560.52 L168.35 561.65 L168.86 562.63 L169.37 563.44 L169.88 564.08 L170.39 564.54 L170.9 564.82 L171.42 564.91 L171.92 564.83 L172.42 564.58 L172.92 564.18 L173.42 563.62 L173.92 562.91 L174.42 562.05 L174.92 561.06 L175.42 559.93 L175.92 558.69 L176.42 557.33 L176.92 555.88 L177.42 554.34 L177.92 552.73 L178.42 551.06 L178.92 549.35 L179.42 547.6 L179.92 545.84 L180.42 544.08 L180.92 542.34 L181.42 540.62 L181.92 538.95 L182.43 537.34 L182.93 535.81 L183.43 534.35 L183.93 533 L184.43 531.75 L184.93 530.63 L185.43 529.63 L185.93 528.78 L186.43 528.06 L186.93 527.5 L187.43 527.1 L187.93 526.86 L188.43 526.78 L188.93 526.87 L189.43 527.17 L189.93 527.65 L190.43 528.32 L190.93 529.18 L191.43 530.21 L191.93 531.41 L192.43 532.76 L192.93 534.26 L193.43 535.89 L193.94 537.63 L194.44 539.48 L194.94 541.42 L195.44 543.43 L195.94 545.49 L196.44 547.59 L196.94 549.7 L197.44 551.82 L197.94 553.92 L198.44 555.98 L198.94 557.99 L199.44 559.92 L199.94 561.78 L200.44 563.52 L200.94 565.15 L201.44 566.65 L201.94 568 L202.44 569.2 L202.94 570.23 L203.44 571.08 L203.94 571.76 L204.44 572.24 L204.94 572.54 L205.45 572.63 L205.95 572.51 L206.46 572.14 L206.96 571.53 L207.47 570.69 L207.97 569.62 L208.48 568.32 L208.98 566.83 L209.49 565.13 L209.99 563.27 L210.5 561.24 L211 559.06 L211.51 556.77 L212.01 554.37 L212.52 551.89 L213.02 549.35 L213.53 546.78 L214.04 544.2 L214.54 541.63 L215.05 539.09 L215.55 536.61 L216.06 534.22 L216.56 531.92 L217.07 529.75 L217.57 527.72 L218.08 525.85 L218.58 524.16 L219.09 522.66 L219.59 521.37 L220.1 520.29 L220.6 519.45 L221.11 518.84 L221.61 518.47 L222.12 518.35 L222.63 518.52 L223.13 519.02 L223.64 519.86 L224.14 521.02 L224.65 522.5 L225.15 524.28 L225.66 526.35 L226.16 528.69 L226.67 531.29 L227.18 534.12 L227.68 537.16 L228.19 540.39 L228.69 543.78 L229.2 547.29 L229.7 550.92 L230.21 554.62 L230.72 558.36 L231.22 562.12 L231.73 565.86 L232.23 569.56 L232.74 573.18 L233.24 576.7 L233.75 580.09 L234.25 583.32 L234.76 586.36 L235.27 589.19 L235.77 591.78 L236.28 594.13 L236.78 596.2 L237.29 597.98 L237.79 599.46 L238.3 600.62 L238.8 601.45 L239.31 601.96 L239.82 602.13 L240.32 601.94 L240.83 601.36 L241.34 600.4 L241.84 599.07 L242.35 597.37 L242.85 595.31 L243.36 592.9 L243.87 590.15 L244.37 587.08 L244.88 583.71 L245.39 580.05 L245.89 576.13 L246.4 571.96 L246.91 567.56 L247.41 562.96 L247.92 558.19 L248.43 553.27 L248.93 548.22 L249.44 543.08 L249.95 537.86 L250.45 532.61 L250.96 527.34 L251.46 522.08 L251.97 516.87 L252.48 511.72 L252.98 506.67 L253.49 501.75 L254 496.98 L254.5 492.38 L255.01 487.99 L255.52 483.82 L256.02 479.89 L256.53 476.23 L257.04 472.86 L257.54 469.79 L258.05 467.05 L258.56 464.64 L259.06 462.58 L259.57 460.87 L260.08 459.54 L260.58 458.58 L261.09 458.01 L261.59 457.82 L262.1 458.05 L262.61 458.74 L263.11 459.89 L263.62 461.5 L264.13 463.55 L264.63 466.03 L265.14 468.93 L265.65 472.24 L266.15 475.94 L266.66 480 L267.17 484.4 L267.67 489.13 L268.18 494.15 L268.69 499.45 L269.19 504.98 L269.7 510.73 L270.21 516.66 L270.71 522.74 L271.22 528.93 L271.72 535.21 L272.23 541.54 L272.74 547.89 L273.24 554.22 L273.75 560.5 L274.26 566.7 L274.76 572.78 L275.27 578.71 L275.78 584.45 L276.28 589.99 L276.79 595.28 L277.3 600.31 L277.8 605.04 L278.31 609.44 L278.82 613.5 L279.32 617.2 L279.83 620.5 L280.34 623.41 L280.84 625.89 L281.35 627.94 L281.85 629.54 L282.36 630.7 L282.87 631.39 L283.37 631.62 L283.88 631.43 L284.38 630.87 L284.88 629.94 L285.38 628.64 L285.88 626.98 L286.39 624.97 L286.89 622.63 L287.39 619.97 L287.89 617.01 L288.39 613.76 L288.9 610.24 L289.4 606.48 L289.9 602.5 L290.4 598.32 L290.9 593.97 L291.41 589.48 L291.91 584.87 L292.41 580.17 L292.91 575.42 L293.41 570.63 L293.91 565.85 L294.42 561.09 L294.92 556.39 L295.42 551.78 L295.92 547.29 L296.42 542.94 L296.93 538.76 L297.43 534.78 L297.93 531.02 L298.43 527.51 L298.93 524.25 L299.44 521.29 L299.94 518.63 L300.44 516.29 L300.94 514.28 L301.44 512.63 L301.95 511.33 L302.45 510.39 L302.95 509.83 L303.45 509.64 L303.96 509.79 L304.47 510.23 L304.98 510.95 L305.49 511.96 L306 513.24 L306.51 514.77 L307.02 516.55 L307.54 518.56 L308.05 520.77 L308.56 523.17 L309.07 525.73 L309.58 528.43 L310.09 531.25 L310.6 534.14 L311.11 537.1 L311.62 540.08 L312.13 543.07 L312.64 546.02 L313.15 548.92 L313.66 551.73 L314.17 554.43 L314.68 557 L315.19 559.4 L315.7 561.61 L316.21 563.62 L316.72 565.4 L317.23 566.93 L317.74 568.21 L318.25 569.22 L318.77 569.94 L319.28 570.38 L319.79 570.53 L320.3 570.41 L320.81 570.06 L321.32 569.48 L321.83 568.68 L322.34 567.67 L322.85 566.44 L323.36 565.03 L323.87 563.43 L324.38 561.67 L324.89 559.76 L325.4 557.72 L325.91 555.57 L326.42 553.33 L326.93 551.03 L327.44 548.67 L327.95 546.3 L328.46 543.92 L328.97 541.57 L329.48 539.27 L330 537.03 L330.51 534.88 L331.02 532.84 L331.53 530.93 L332.04 529.17 L332.55 527.57 L333.06 526.15 L333.57 524.93 L334.08 523.92 L334.59 523.11 L335.1 522.54 L335.61 522.19 L336.12 522.07 L336.63 522.17 L337.13 522.46 L337.64 522.95 L338.14 523.63 L338.65 524.49 L339.15 525.53 L339.66 526.73 L340.16 528.09 L340.67 529.58 L341.17 531.21 L341.68 532.96 L342.18 534.8 L342.69 536.72 L343.19 538.71 L343.7 540.74 L344.21 542.81 L344.71 544.88 L345.22 546.94 L345.72 548.97 L346.23 550.96 L346.73 552.88 L347.24 554.73 L347.74 556.47 L348.25 558.1 L348.75 559.6 L349.26 560.95 L349.76 562.15 L350.27 563.19 L350.77 564.05 L351.28 564.73 L351.78 565.22 L352.29 565.51 L352.8 565.61 L353.31 565.51 L353.82 565.22 L354.33 564.73 L354.84 564.06 L355.35 563.21 L355.86 562.18 L356.37 560.99 L356.88 559.65 L357.39 558.17 L357.9 556.56 L358.41 554.85 L358.92 553.04 L359.43 551.16 L359.94 549.22 L360.45 547.24 L360.96 545.25 L361.47 543.25 L361.98 541.27 L362.49 539.33 L363 537.45 L363.51 535.65 L364.03 533.93 L364.54 532.33 L365.05 530.85 L365.56 529.5 L366.07 528.31 L366.58 527.28 L367.09 526.43 L367.6 525.76 L368.11 525.27 L368.62 524.98 L369.13 524.88 L369.63 524.98 L370.14 525.26 L370.65 525.74 L371.15 526.4 L371.66 527.24 L372.16 528.25 L372.67 529.43 L373.17 530.75 L373.68 532.21 L374.18 533.8 L374.69 535.5 L375.19 537.3 L375.7 539.18 L376.2 541.12 L376.71 543.1 L377.21 545.11 L377.72 547.13 L378.22 549.15 L378.73 551.13 L379.24 553.07 L379.74 554.95 L380.25 556.74 L380.75 558.45 L381.26 560.03 L381.76 561.5 L382.27 562.82 L382.77 563.99 L383.28 565 L383.78 565.84 L384.29 566.51 L384.79 566.98 L385.3 567.27 L385.8 567.37 L386.31 567.26 L386.83 566.94 L387.34 566.4 L387.85 565.66 L388.36 564.72 L388.87 563.59 L389.38 562.27 L389.89 560.79 L390.4 559.16 L390.91 557.39 L391.42 555.51 L391.93 553.52 L392.44 551.44 L392.95 549.31 L393.46 547.13 L393.97 544.93 L394.48 542.73 L394.99 540.55 L395.5 538.42 L396.01 536.34 L396.52 534.35 L397.03 532.46 L397.54 530.7 L398.06 529.06 L398.57 527.59 L399.08 526.27 L399.59 525.14 L400.1 524.2 L400.61 523.46 L401.12 522.92 L401.63 522.6 L402.14 522.49 L402.64 522.6 L403.15 522.94 L403.65 523.49 L404.16 524.26 L404.67 525.24 L405.17 526.42 L405.68 527.78 L406.18 529.32 L406.69 531.02 L407.19 532.87 L407.7 534.85 L408.2 536.94 L408.71 539.13 L409.21 541.38 L409.72 543.69 L410.22 546.04 L410.73 548.39 L411.23 550.73 L411.74 553.04 L412.24 555.3 L412.75 557.48 L413.26 559.57 L413.76 561.55 L414.27 563.4 L414.77 565.1 L415.28 566.64 L415.78 568.01 L416.29 569.18 L416.79 570.16 L417.3 570.93 L417.8 571.48 L418.31 571.82 L418.81 571.93 L419.32 571.81 L419.83 571.43 L420.34 570.82 L420.86 569.96 L421.37 568.88 L421.88 567.57 L422.39 566.06 L422.9 564.35 L423.41 562.47 L423.92 560.43 L424.43 558.25 L424.94 555.96 L425.45 553.57 L425.96 551.1 L426.47 548.59 L426.98 546.05 L427.49 543.52 L428 541 L428.51 538.54 L429.02 536.15 L429.53 533.85 L430.04 531.68 L430.55 529.64 L431.06 527.75 L431.57 526.05 L432.09 524.54 L432.6 523.23 L433.11 522.15 L433.62 521.29 L434.13 520.67 L434.64 520.3 L435.15 520.18 L435.65 520.32 L436.15 520.75 L436.65 521.45 L437.15 522.44 L437.66 523.7 L438.16 525.22 L438.66 526.98 L439.16 528.99 L439.66 531.23 L440.16 533.67 L440.66 536.31 L441.17 539.12 L441.67 542.09 L442.17 545.2 L442.67 548.42 L443.17 551.73 L443.67 555.11 L444.17 558.54 L444.68 561.99 L445.18 565.45 L445.68 568.88 L446.18 572.26 L446.68 575.57 L447.18 578.79 L447.69 581.9 L448.19 584.87 L448.69 587.68 L449.19 590.32 L449.69 592.76 L450.19 595 L450.69 597 L451.2 598.77 L451.7 600.29 L452.2 601.55 L452.7 602.53 L453.2 603.24 L453.7 603.67 L454.2 603.81 L454.71 603.59 L455.21 602.91 L455.71 601.79 L456.21 600.23 L456.72 598.23 L457.22 595.82 L457.72 593 L458.22 589.79 L458.73 586.2 L459.23 582.26 L459.73 578 L460.23 573.42 L460.74 568.56 L461.24 563.45 L461.74 558.11 L462.24 552.58 L462.74 546.88 L463.25 541.05 L463.75 535.12 L464.25 529.12 L464.75 523.09 L465.26 517.06 L465.76 511.06 L466.26 505.13 L466.76 499.3 L467.27 493.6 L467.77 488.06 L468.27 482.73 L468.77 477.62 L469.28 472.76 L469.78 468.18 L470.28 463.91 L470.78 459.98 L471.28 456.39 L471.79 453.18 L472.29 450.36 L472.79 447.95 L473.29 445.95 L473.8 444.39 L474.3 443.27 L474.8 442.59 L475.3 442.37 L475.81 442.63 L476.32 443.4 L476.82 444.7 L477.33 446.5 L477.84 448.8 L478.34 451.58 L478.85 454.83 L479.36 458.54 L479.86 462.68 L480.37 467.23 L480.87 472.17 L481.38 477.48 L481.89 483.11 L482.39 489.04 L482.9 495.25 L483.41 501.69 L483.91 508.34 L484.42 515.16 L484.93 522.1 L485.43 529.15 L485.94 536.24 L486.45 543.36 L486.95 550.46 L487.46 557.5 L487.97 564.45 L488.47 571.26 L488.98 577.91 L489.49 584.36 L489.99 590.56 L490.5 596.5 L491 602.13 L491.51 607.43 L492.02 612.37 L492.52 616.92 L493.03 621.07 L493.54 624.77 L494.04 628.03 L494.55 630.81 L495.06 633.11 L495.56 634.91 L496.07 636.2 L496.58 636.98 L497.08 637.24 L497.59 637.02 L498.1 636.37 L498.61 635.28 L499.12 633.76 L499.63 631.84 L500.15 629.51 L500.66 626.79 L501.17 623.71 L501.68 620.29 L502.19 616.54 L502.7 612.49 L503.21 608.18 L503.72 603.62 L504.23 598.86 L504.74 593.92 L505.25 588.84 L505.76 583.65 L506.27 578.39 L506.78 573.09 L507.29 567.79 L507.8 562.53 L508.31 557.34 L508.82 552.26 L509.33 547.32 L509.84 542.56 L510.35 538 L510.86 533.69 L511.38 529.64 L511.89 525.89 L512.4 522.47 L512.91 519.39 L513.42 516.67 L513.93 514.34 L514.44 512.42 L514.95 510.9 L515.46 509.81 L515.97 509.16 L516.48 508.94 L516.98 509.07 L517.48 509.47 L517.98 510.12 L518.48 511.03 L518.98 512.19 L519.48 513.58 L519.98 515.2 L520.48 517.03 L520.98 519.06 L521.48 521.26 L521.98 523.62 L522.48 526.12 L522.99 528.74 L523.49 531.46 L523.99 534.25 L524.49 537.08 L524.99 539.94 L525.49 542.8 L525.99 545.64 L526.49 548.43 L526.99 551.14 L527.49 553.76 L527.99 556.27 L528.49 558.63 L528.99 560.83 L529.49 562.86 L529.99 564.69 L530.49 566.3 L530.99 567.7 L531.49 568.85 L531.99 569.76 L532.49 570.42 L532.99 570.82 L533.49 570.95 L534 570.85 L534.51 570.55 L535.01 570.05 L535.52 569.36 L536.02 568.48 L536.53 567.43 L537.03 566.21 L537.54 564.83 L538.04 563.3 L538.55 561.64 L539.05 559.87 L539.56 558 L540.06 556.04 L540.57 554.02 L541.07 551.94 L541.58 549.85 L542.08 547.74 L542.59 545.64 L543.1 543.57 L543.6 541.55 L544.11 539.59 L544.61 537.71 L545.12 535.94 L545.62 534.28 L546.13 532.76 L546.63 531.38 L547.14 530.15 L547.64 529.1 L548.15 528.22 L548.65 527.53 L549.16 527.04 L549.66 526.74 L550.17 526.64 L550.67 526.72 L551.18 526.96 L551.69 527.37 L552.19 527.93 L552.7 528.64 L553.2 529.5 L553.71 530.49 L554.21 531.61 L554.72 532.85 L555.22 534.2 L555.73 535.64 L556.23 537.17 L556.74 538.76 L557.24 540.4 L557.75 542.09 L558.25 543.79 L558.76 545.51 L559.26 547.21 L559.77 548.9 L560.28 550.54 L560.78 552.13 L561.29 553.65 L561.79 555.1 L562.3 556.44 L562.8 557.69 L563.31 558.81 L563.81 559.8 L564.32 560.66 L564.82 561.37 L565.33 561.93 L565.83 562.34 L566.34 562.58 L566.84 562.66 L567.34 562.59 L567.84 562.37 L568.35 562 L568.85 561.49 L569.35 560.85 L569.85 560.07 L570.35 559.16 L570.85 558.14 L571.35 557.01 L571.85 555.78 L572.35 554.46 L572.85 553.07 L573.35 551.6 L573.85 550.09 L574.35 548.53 L574.85 546.95 L575.35 545.35 L575.85 543.75 L576.35 542.17 L576.85 540.61 L577.35 539.1 L577.85 537.63 L578.35 536.24 L578.85 534.92 L579.35 533.69 L579.86 532.56 L580.36 531.54 L580.86 530.63 L581.36 529.86 L581.86 529.21 L582.36 528.7 L582.86 528.34 L583.36 528.11 L583.86 528.04 L584.37 528.13 L584.89 528.4 L585.41 528.85 L585.92 529.47 L586.44 530.26 L586.95 531.21 L587.47 532.3 L587.99 533.53 L588.5 534.89 L589.02 536.36 L589.53 537.92 L590.05 539.57 L590.57 541.28 L591.08 543.03 L591.6 544.81 L592.11 546.6 L592.63 548.38 L593.15 550.13 L593.66 551.84 L594.18 553.48 L594.69 555.04 L595.21 556.51 L595.73 557.87 L596.24 559.1 L596.76 560.2 L597.27 561.14 L597.79 561.93 L598.31 562.55 L598.82 563 L599.34 563.27 L599.85 563.36 L600.35 563.29 L600.85 563.05 L601.35 562.66 L601.85 562.12 L602.36 561.44 L602.86 560.61 L603.36 559.65 L603.86 558.57 L604.36 557.37 L604.86 556.07 L605.36 554.67 L605.86 553.19 L606.36 551.63 L606.86 550.03 L607.36 548.37 L607.86 546.69 L608.36 545 L608.86 543.31 L609.36 541.63 L609.86 539.97 L610.36 538.37 L610.86 536.81 L611.36 535.33 L611.86 533.93 L612.36 532.63 L612.86 531.43 L613.36 530.35 L613.87 529.39 L614.37 528.56 L614.87 527.88 L615.37 527.34 L615.87 526.95 L616.37 526.71 L616.87 526.64 L617.38 526.75 L617.89 527.08 L618.4 527.63 L618.91 528.39 L619.42 529.35 L619.93 530.51 L620.44 531.86 L620.95 533.37 L621.46 535.04 L621.97 536.86 L622.48 538.79 L622.99 540.83 L623.5 542.96 L624.01 545.15 L624.52 547.38 L625.04 549.63 L625.55 551.89 L626.06 554.12 L626.57 556.31 L627.08 558.44 L627.59 560.48 L628.1 562.41 L628.61 564.22 L629.12 565.9 L629.63 567.41 L630.14 568.76 L630.65 569.92 L631.16 570.88 L631.67 571.64 L632.18 572.19 L632.69 572.52 L633.2 572.63 L633.71 572.51 L634.21 572.13 L634.72 571.51 L635.22 570.65 L635.73 569.56 L636.23 568.25 L636.74 566.72 L637.24 565 L637.75 563.1 L638.26 561.03 L638.76 558.82 L639.27 556.48 L639.77 554.04 L640.28 551.51 L640.78 548.93 L641.29 546.31 L641.79 543.68 L642.3 541.07 L642.8 538.48 L643.31 535.96 L643.81 533.52 L644.32 531.18 L644.82 528.97 L645.33 526.9 L645.83 525 L646.34 523.28 L646.85 521.75 L647.35 520.44 L647.86 519.35 L648.36 518.49 L648.87 517.87 L649.37 517.49 L649.88 517.37 L650.38 517.53 L650.88 518.02 L651.38 518.84 L651.88 519.97 L652.38 521.42 L652.88 523.16 L653.38 525.18 L653.89 527.48 L654.39 530.03 L654.89 532.81 L655.39 535.8 L655.89 538.98 L656.39 542.32 L656.89 545.81 L657.39 549.4 L657.89 553.08 L658.39 556.82 L658.9 560.59 L659.4 564.36 L659.9 568.1 L660.4 571.78 L660.9 575.37 L661.4 578.86 L661.9 582.2 L662.4 585.38 L662.9 588.37 L663.4 591.15 L663.91 593.7 L664.41 596 L664.91 598.02 L665.41 599.76 L665.91 601.21 L666.41 602.34 L666.91 603.16 L667.41 603.65 L667.91 603.81 L668.42 603.61 L668.93 603.02 L669.43 602.03 L669.94 600.66 L670.45 598.9 L670.95 596.77 L671.46 594.29 L671.96 591.46 L672.47 588.29 L672.98 584.81 L673.48 581.04 L673.99 576.99 L674.5 572.69 L675 568.15 L675.51 563.41 L676.02 558.49 L676.52 553.41 L677.03 548.2 L677.54 542.9 L678.04 537.52 L678.55 532.09 L679.06 526.66 L679.56 521.23 L680.07 515.85 L680.58 510.55 L681.08 505.34 L681.59 500.26 L682.09 495.34 L682.6 490.6 L683.11 486.06 L683.61 481.76 L684.12 477.71 L684.63 473.93 L685.13 470.46 L685.64 467.29 L686.15 464.46 L686.65 461.97 L687.16 459.85 L687.67 458.09 L688.17 456.72 L688.68 455.73 L689.19 455.13 L689.69 454.94 L690.2 455.19 L690.71 455.93 L691.22 457.17 L691.73 458.89 L692.24 461.09 L692.75 463.75 L693.27 466.87 L693.78 470.41 L694.29 474.36 L694.8 478.71 L695.31 483.42 L695.82 488.46 L696.33 493.82 L696.84 499.46 L697.35 505.35 L697.86 511.45 L698.37 517.73 L698.88 524.17 L699.39 530.71 L699.9 537.33 L700.41 543.98 L700.92 550.64 L701.43 557.25 L701.94 563.8 L702.45 570.23 L702.96 576.51 L703.47 582.62 L703.98 588.5 L704.5 594.14 L705.01 599.5 L705.52 604.55 L706.03 609.26 L706.54 613.6 L707.05 617.55 L707.56 621.1 L708.07 624.21 L708.58 626.87 L709.09 629.07 L709.6 630.79 L710.11 632.03 L710.62 632.78 L711.13 633.03 L711.64 632.83 L712.14 632.22 L712.65 631.22 L713.16 629.83 L713.66 628.06 L714.17 625.92 L714.67 623.42 L715.18 620.58 L715.69 617.42 L716.19 613.96 L716.7 610.22 L717.2 606.23 L717.71 602 L718.22 597.58 L718.72 592.98 L719.23 588.24 L719.73 583.39 L720.24 578.46 L720.75 573.48 L721.25 568.48 L721.76 563.5 L722.27 558.57 L722.77 553.72 L723.28 548.98 L723.78 544.39 L724.29 539.96 L724.8 535.74 L725.3 531.74 L725.81 528 L726.31 524.54 L726.82 521.38 L727.33 518.54 L727.83 516.05 L728.34 513.9 L728.84 512.13 L729.35 510.74 L729.86 509.74 L730.36 509.14 L730.87 508.94 L731.38 509.1 L731.9 509.57 L732.42 510.36 L732.93 511.45 L733.45 512.83 L733.96 514.5 L734.48 516.42 L735 518.58 L735.51 520.97 L736.03 523.54 L736.54 526.29 L737.06 529.18 L737.58 532.17 L738.09 535.25 L738.61 538.37 L739.12 541.51 L739.64 544.64 L740.16 547.71 L740.67 550.71 L741.19 553.6 L741.7 556.34 L742.22 558.92 L742.74 561.3 L743.25 563.47 L743.77 565.39 L744.28 567.05 L744.8 568.44 L745.31 569.53 L745.83 570.31 L746.35 570.79 L746.86 570.95 L747.37 570.83 L747.88 570.48 L748.39 569.9 L748.9 569.09 L749.41 568.06 L749.93 566.83 L750.44 565.4 L750.95 563.79 L751.46 562.01 L751.97 560.09 L752.48 558.03 L752.99 555.86 L753.5 553.6 L754.01 551.28 L754.52 548.9 L755.03 546.51 L755.54 544.11 L755.71 543.32" fill="none" stroke="#0072BD" stroke-width="1.45" stroke-linejoin="round" />
<path d="M235.1 592.8 L238.6 609.5" fill="none" stroke="#0072BD" stroke-width="1.45" stroke-linejoin="round" stroke-linecap="butt"/>
<path d="M243.8 604.5 L247 583" fill="none" stroke="#0072BD" stroke-width="1.45" stroke-linejoin="round" stroke-linecap="butt"/>
<path d="M248.4 569.5 L249.6 560" fill="none" stroke="#0072BD" stroke-width="1.45" stroke-linejoin="round" stroke-linecap="butt"/>
<path d="M255.3 476.9 L256.8 463.3 L259.4 445.9 L260.6 444.8 L262.4 443.6" fill="none" stroke="#0072BD" stroke-width="1.45" stroke-linejoin="round" stroke-linecap="butt"/>
<path d="M265.5 456.9 L267.7 478.4" fill="none" stroke="#0072BD" stroke-width="1.45" stroke-linejoin="round" stroke-linecap="butt"/>
<path d="M284.2 628.9 L287.4 607.2" fill="none" stroke="#0072BD" stroke-width="1.45" stroke-linejoin="round" stroke-linecap="butt"/>
<path d="M449.7 596.5 L453.2 610.6" fill="none" stroke="#0072BD" stroke-width="1.45" stroke-linejoin="round" stroke-linecap="butt"/>
<path d="M458.1 602.2 L461.2 581" fill="none" stroke="#0072BD" stroke-width="1.45" stroke-linejoin="round" stroke-linecap="butt"/>
<path d="M497.8 628.3 L501.8 608" fill="none" stroke="#0072BD" stroke-width="1.45" stroke-linejoin="round" stroke-linecap="butt"/>
<path d="M503.4 593.4 L505.8 572.6" fill="none" stroke="#0072BD" stroke-width="1.45" stroke-linejoin="round" stroke-linecap="butt"/>
<path d="M664.3 600 L666.9 609.3" fill="none" stroke="#0072BD" stroke-width="1.45" stroke-linejoin="round" stroke-linecap="butt"/>
<path d="M671.8 604.4 L674.6 583.2" fill="none" stroke="#0072BD" stroke-width="1.45" stroke-linejoin="round" stroke-linecap="butt"/>
<path d="M684.9 463.5 L686 455.6 L687.5 446.1 L688.7 444.6 L690.6 443.3" fill="none" stroke="#0072BD" stroke-width="1.45" stroke-linejoin="round" stroke-linecap="butt"/>
<path d="M693.2 456.7 L695.8 477.9" fill="none" stroke="#0072BD" stroke-width="1.45" stroke-linejoin="round" stroke-linecap="butt"/>
<path d="M712.4 628.3 L715.7 607.5" fill="none" stroke="#0072BD" stroke-width="1.45" stroke-linejoin="round" stroke-linecap="butt"/>
<path d="M112.54 550.98 L112.88 549.54 L113.39 547.35 L113.9 545.14 L114.42 542.93 L114.93 540.74 L115.44 538.59 L115.95 536.5 L116.46 534.5 L116.97 532.6 L117.48 530.82 L117.99 529.18 L118.5 527.69 L119.01 526.37 L119.52 525.23 L120.03 524.28 L120.54 523.53 L121.05 523 L121.56 522.67 L122.07 522.56 L122.57 522.65 L123.07 522.89 L123.57 523.3 L124.07 523.87 L124.57 524.6 L125.07 525.47 L125.57 526.48 L126.08 527.63 L126.58 528.9 L127.08 530.28 L127.58 531.76 L128.08 533.33 L128.58 534.97 L129.08 536.67 L129.58 538.41 L130.08 540.19 L130.58 541.98 L131.08 543.77 L131.58 545.55 L132.08 547.29 L132.58 548.99 L133.08 550.64 L133.58 552.2 L134.08 553.68 L134.58 555.06 L135.08 556.33 L135.58 557.48 L136.08 558.49 L136.58 559.36 L137.09 560.09 L137.59 560.66 L138.09 561.07 L138.59 561.31 L139.09 561.4 L139.6 561.31 L140.12 561.06 L140.63 560.64 L141.15 560.06 L141.67 559.32 L142.18 558.44 L142.7 557.42 L143.21 556.26 L143.73 555 L144.25 553.62 L144.76 552.16 L145.28 550.63 L145.79 549.03 L146.31 547.39 L146.83 545.73 L147.34 544.06 L147.86 542.4 L148.37 540.76 L148.89 539.16 L149.41 537.63 L149.92 536.16 L150.44 534.79 L150.95 533.52 L151.47 532.37 L151.99 531.35 L152.5 530.47 L153.02 529.73 L153.53 529.15 L154.05 528.73 L154.56 528.48 L155.08 528.39 L155.59 528.48 L156.1 528.73 L156.61 529.15 L157.12 529.73 L157.63 530.46 L158.14 531.35 L158.65 532.38 L159.16 533.53 L159.67 534.81 L160.19 536.19 L160.7 537.67 L161.21 539.23 L161.72 540.85 L162.23 542.52 L162.74 544.23 L163.25 545.95 L163.76 547.67 L164.27 549.37 L164.78 551.04 L165.29 552.67 L165.8 554.22 L166.31 555.7 L166.82 557.09 L167.33 558.36 L167.84 559.52 L168.35 560.55 L168.86 561.43 L169.37 562.17 L169.88 562.75 L170.39 563.17 L170.9 563.42 L171.42 563.5 L171.92 563.43 L172.42 563.19 L172.92 562.8 L173.42 562.26 L173.92 561.58 L174.42 560.75 L174.92 559.79 L175.42 558.71 L175.92 557.51 L176.42 556.21 L176.92 554.81 L177.42 553.33 L177.92 551.77 L178.42 550.17 L178.92 548.51 L179.42 546.83 L179.92 545.14 L180.42 543.45 L180.92 541.77 L181.42 540.11 L181.92 538.51 L182.43 536.95 L182.93 535.47 L183.43 534.07 L183.93 532.77 L184.43 531.57 L184.93 530.49 L185.43 529.53 L185.93 528.7 L186.43 528.02 L186.93 527.48 L187.43 527.09 L187.93 526.85 L188.43 526.78 L188.93 526.87 L189.43 527.17 L189.93 527.65 L190.43 528.32 L190.93 529.18 L191.43 530.21 L191.93 531.41 L192.43 532.76 L192.93 534.26 L193.43 535.89 L193.94 537.63 L194.44 539.48 L194.94 541.42 L195.44 543.43 L195.94 545.49 L196.44 547.59 L196.94 549.7 L197.44 551.82 L197.94 553.92 L198.44 555.98 L198.94 557.99 L199.44 559.92 L199.94 561.78 L200.44 563.52 L200.94 565.15 L201.44 566.65 L201.94 568 L202.44 569.2 L202.94 570.23 L203.44 571.08 L203.94 571.76 L204.44 572.24 L204.94 572.54 L205.45 572.63 L205.95 572.51 L206.46 572.14 L206.96 571.53 L207.47 570.69 L207.97 569.62 L208.48 568.32 L208.98 566.83 L209.49 565.13 L209.99 563.27 L210.5 561.24 L211 559.06 L211.51 556.77 L212.01 554.37 L212.52 551.89 L213.02 549.35 L213.53 546.78 L214.04 544.2 L214.54 541.63 L215.05 539.09 L215.55 536.61 L216.06 534.22 L216.56 531.92 L217.07 529.75 L217.57 527.72 L218.08 525.85 L218.58 524.16 L219.09 522.66 L219.59 521.37 L220.1 520.29 L220.6 519.45 L221.11 518.84 L221.61 518.47 L222.12 518.35 L222.63 518.52 L223.13 519.02 L223.64 519.86 L224.14 521.02 L224.65 522.5 L225.15 524.28 L225.66 526.35 L226.16 528.69 L226.67 531.29 L227.18 534.12 L227.68 537.16 L228.19 540.39 L228.69 543.78 L229.2 547.29 L229.7 550.92 L230.21 554.62 L230.72 558.36 L231.22 562.12 L231.73 565.86 L232.23 569.56 L232.74 573.18 L233.24 576.7 L233.75 580.09 L234.25 583.32 L234.76 586.36 L235.27 589.19 L235.77 591.78 L236.28 594.13 L236.78 596.2 L237.29 597.98 L237.79 599.46 L238.3 600.62 L238.8 601.45 L239.31 601.96 L239.82 602.13 L240.32 601.94 L240.83 601.36 L241.34 600.4 L241.84 599.07 L242.35 597.37 L242.85 595.31 L243.36 592.9 L243.87 590.15 L244.37 587.08 L244.88 583.71 L245.39 580.05 L245.89 576.13 L246.4 571.96 L246.91 567.56 L247.41 562.96 L247.92 558.19 L248.43 553.27 L248.93 548.22 L249.44 543.08 L249.95 537.86 L250.45 532.61 L250.96 527.34 L251.46 522.08 L251.97 516.87 L252.48 511.72 L252.98 506.67 L253.49 501.75 L254 496.98 L254.5 492.38 L255.01 487.99 L255.52 483.82 L256.02 479.89 L256.53 476.23 L257.04 472.86 L257.54 469.79 L258.05 467.05 L258.56 464.64 L259.06 462.58 L259.57 460.87 L260.08 459.54 L260.58 458.58 L261.09 458.01 L261.59 457.82 L262.1 458.05 L262.61 458.74 L263.11 459.89 L263.62 461.5 L264.13 463.55 L264.63 466.03 L265.14 468.93 L265.65 472.24 L266.15 475.94 L266.66 480 L267.17 484.4 L267.67 489.13 L268.18 494.15 L268.69 499.45 L269.19 504.98 L269.7 510.73 L270.21 516.66 L270.71 522.74 L271.22 528.93 L271.72 535.21 L272.23 541.54 L272.74 547.89 L273.24 554.22 L273.75 560.5 L274.26 566.7 L274.76 572.78 L275.27 578.71 L275.78 584.45 L276.28 589.99 L276.79 595.28 L277.3 600.31 L277.8 605.04 L278.31 609.44 L278.82 613.5 L279.32 617.2 L279.83 620.5 L280.34 623.41 L280.84 625.89 L281.35 627.94 L281.85 629.54 L282.36 630.7 L282.87 631.39 L283.37 631.62 L283.88 631.42 L284.38 630.83 L284.88 629.84 L285.38 628.46 L285.88 626.71 L286.39 624.59 L286.89 622.11 L287.39 619.3 L287.89 616.16 L288.39 612.72 L288.9 609 L289.4 605.02 L289.9 600.81 L290.4 596.38 L290.9 591.78 L291.41 587.03 L291.91 582.15 L292.41 577.18 L292.91 572.15 L293.41 567.09 L293.91 562.02 L294.42 556.99 L294.92 552.02 L295.42 547.14 L295.92 542.39 L296.42 537.79 L296.93 533.37 L297.43 529.15 L297.93 525.17 L298.43 521.45 L298.93 518.01 L299.44 514.87 L299.94 512.06 L300.44 509.58 L300.94 507.46 L301.44 505.71 L301.95 504.33 L302.45 503.34 L302.95 502.75 L303.45 502.55 L303.96 502.71 L304.47 503.2 L304.98 504.01 L305.49 505.14 L306 506.56 L306.51 508.28 L307.02 510.26 L307.54 512.5 L308.05 514.98 L308.56 517.65 L309.07 520.52 L309.58 523.53 L310.09 526.67 L310.6 529.91 L311.11 533.21 L311.62 536.54 L312.13 539.87 L312.64 543.17 L313.15 546.4 L313.66 549.54 L314.17 552.56 L314.68 555.42 L315.19 558.1 L315.7 560.57 L316.21 562.81 L316.72 564.8 L317.23 566.51 L317.74 567.94 L318.25 569.06 L318.77 569.87 L319.28 570.36 L319.79 570.53 L320.3 570.41 L320.81 570.06 L321.32 569.48 L321.83 568.68 L322.34 567.67 L322.85 566.44 L323.36 565.03 L323.87 563.43 L324.38 561.67 L324.89 559.76 L325.4 557.72 L325.91 555.57 L326.42 553.33 L326.93 551.03 L327.44 548.67 L327.95 546.3 L328.46 543.92 L328.97 541.57 L329.48 539.27 L330 537.03 L330.51 534.88 L331.02 532.84 L331.53 530.93 L332.04 529.17 L332.55 527.57 L333.06 526.15 L333.57 524.93 L334.08 523.92 L334.59 523.11 L335.1 522.54 L335.61 522.19 L336.12 522.07 L336.63 522.17 L337.13 522.46 L337.64 522.95 L338.14 523.63 L338.65 524.49 L339.15 525.53 L339.66 526.73 L340.16 528.09 L340.67 529.58 L341.17 531.21 L341.68 532.96 L342.18 534.8 L342.69 536.72 L343.19 538.71 L343.7 540.74 L344.21 542.81 L344.71 544.88 L345.22 546.94 L345.72 548.97 L346.23 550.96 L346.73 552.88 L347.24 554.73 L347.74 556.47 L348.25 558.1 L348.75 559.6 L349.26 560.95 L349.76 562.15 L350.27 563.19 L350.77 564.05 L351.28 564.73 L351.78 565.22 L352.29 565.51 L352.8 565.61 L353.31 565.51 L353.82 565.22 L354.33 564.73 L354.84 564.06 L355.35 563.21 L355.86 562.18 L356.37 560.99 L356.88 559.65 L357.39 558.17 L357.9 556.56 L358.41 554.85 L358.92 553.04 L359.43 551.16 L359.94 549.22 L360.45 547.24 L360.96 545.25 L361.47 543.25 L361.98 541.27 L362.49 539.33 L363 537.45 L363.51 535.65 L364.03 533.93 L364.54 532.33 L365.05 530.85 L365.56 529.5 L366.07 528.31 L366.58 527.28 L367.09 526.43 L367.6 525.76 L368.11 525.27 L368.62 524.98 L369.13 524.88 L369.63 524.98 L370.14 525.26 L370.65 525.74 L371.15 526.4 L371.66 527.24 L372.16 528.25 L372.67 529.43 L373.17 530.75 L373.68 532.21 L374.18 533.8 L374.69 535.5 L375.19 537.3 L375.7 539.18 L376.2 541.12 L376.71 543.1 L377.21 545.11 L377.72 547.13 L378.22 549.15 L378.73 551.13 L379.24 553.07 L379.74 554.95 L380.25 556.74 L380.75 558.45 L381.26 560.03 L381.76 561.5 L382.27 562.82 L382.77 563.99 L383.28 565 L383.78 565.84 L384.29 566.51 L384.79 566.98 L385.3 567.27 L385.8 567.37 L386.31 567.26 L386.83 566.94 L387.34 566.4 L387.85 565.66 L388.36 564.72 L388.87 563.59 L389.38 562.27 L389.89 560.79 L390.4 559.16 L390.91 557.39 L391.42 555.51 L391.93 553.52 L392.44 551.44 L392.95 549.31 L393.46 547.13 L393.97 544.93 L394.48 542.73 L394.99 540.55 L395.5 538.42 L396.01 536.34 L396.52 534.35 L397.03 532.46 L397.54 530.7 L398.06 529.06 L398.57 527.59 L399.08 526.27 L399.59 525.14 L400.1 524.2 L400.61 523.46 L401.12 522.92 L401.63 522.6 L402.14 522.49 L402.64 522.62 L403.15 522.99 L403.65 523.61 L404.16 524.48 L404.67 525.57 L405.17 526.89 L405.68 528.42 L406.18 530.15 L406.69 532.05 L407.19 534.13 L407.7 536.34 L408.2 538.69 L408.71 541.14 L409.21 543.66 L409.72 546.25 L410.22 548.88 L410.73 551.51 L411.23 554.14 L411.74 556.73 L412.24 559.26 L412.75 561.7 L413.26 564.05 L413.76 566.27 L414.27 568.34 L414.77 570.25 L415.28 571.97 L415.78 573.5 L416.29 574.82 L416.79 575.92 L417.3 576.78 L417.8 577.4 L418.31 577.77 L418.81 577.9 L419.32 577.76 L419.83 577.35 L420.34 576.66 L420.86 575.7 L421.37 574.49 L421.88 573.04 L422.39 571.35 L422.9 569.45 L423.41 567.35 L423.92 565.07 L424.43 562.64 L424.94 560.08 L425.45 557.42 L425.96 554.67 L426.47 551.87 L426.98 549.04 L427.49 546.21 L428 543.41 L428.51 540.66 L429.02 537.99 L429.53 535.43 L430.04 533 L430.55 530.73 L431.06 528.63 L431.57 526.73 L432.09 525.04 L432.6 523.58 L433.11 522.37 L433.62 521.42 L434.13 520.73 L434.64 520.31 L435.15 520.18 L435.65 520.32 L436.15 520.75 L436.65 521.45 L437.15 522.44 L437.66 523.7 L438.16 525.22 L438.66 526.98 L439.16 528.99 L439.66 531.23 L440.16 533.67 L440.66 536.31 L441.17 539.12 L441.67 542.09 L442.17 545.2 L442.67 548.42 L443.17 551.73 L443.67 555.11 L444.17 558.54 L444.68 561.99 L445.18 565.45 L445.68 568.88 L446.18 572.26 L446.68 575.57 L447.18 578.79 L447.69 581.9 L448.19 584.87 L448.69 587.68 L449.19 590.32 L449.69 592.76 L450.19 595 L450.69 597 L451.2 598.77 L451.7 600.29 L452.2 601.55 L452.7 602.53 L453.2 603.24 L453.7 603.67 L454.2 603.81 L454.71 603.59 L455.21 602.9 L455.71 601.77 L456.21 600.19 L456.72 598.18 L457.22 595.74 L457.72 592.89 L458.22 589.65 L458.73 586.03 L459.23 582.06 L459.73 577.75 L460.23 573.13 L460.74 568.23 L461.24 563.07 L461.74 557.68 L462.24 552.09 L462.74 546.34 L463.25 540.45 L463.75 534.46 L464.25 528.41 L464.75 522.32 L465.26 516.23 L465.76 510.17 L466.26 504.18 L466.76 498.3 L467.27 492.54 L467.77 486.96 L468.27 481.57 L468.77 476.41 L469.28 471.51 L469.78 466.89 L470.28 462.58 L470.78 458.6 L471.28 454.98 L471.79 451.74 L472.29 448.89 L472.79 446.45 L473.29 444.44 L473.8 442.86 L474.3 441.73 L474.8 441.05 L475.3 440.82 L475.81 441.08 L476.32 441.87 L476.82 443.17 L477.33 444.98 L477.84 447.3 L478.34 450.11 L478.85 453.39 L479.36 457.12 L479.86 461.3 L480.37 465.89 L480.87 470.87 L481.38 476.21 L481.89 481.89 L482.39 487.87 L482.9 494.12 L483.41 500.62 L483.91 507.32 L484.42 514.19 L484.93 521.19 L485.43 528.29 L485.94 535.44 L486.45 542.62 L486.95 549.77 L487.46 556.87 L487.97 563.87 L488.47 570.74 L488.98 577.44 L489.49 583.94 L489.99 590.19 L490.5 596.17 L491 601.85 L491.51 607.2 L492.02 612.17 L492.52 616.76 L493.03 620.94 L493.54 624.67 L494.04 627.95 L494.55 630.76 L495.06 633.08 L495.56 634.89 L496.07 636.19 L496.58 636.98 L497.08 637.24 L497.59 637.01 L498.1 636.33 L498.61 635.19 L499.12 633.61 L499.63 631.6 L500.15 629.17 L500.66 626.33 L501.17 623.11 L501.68 619.54 L502.19 615.62 L502.7 611.39 L503.21 606.89 L503.72 602.13 L504.23 597.16 L504.74 592 L505.25 586.69 L505.76 581.27 L506.27 575.78 L506.78 570.25 L507.29 564.71 L507.8 559.22 L508.31 553.8 L508.82 548.49 L509.33 543.33 L509.84 538.36 L510.35 533.6 L510.86 529.1 L511.38 524.87 L511.89 520.96 L512.4 517.38 L512.91 514.16 L513.42 511.33 L513.93 508.89 L514.44 506.88 L514.95 505.3 L515.46 504.16 L515.97 503.48 L516.48 503.25 L516.98 503.4 L517.48 503.83 L517.98 504.54 L518.48 505.54 L518.98 506.8 L519.48 508.32 L519.98 510.09 L520.48 512.09 L520.98 514.3 L521.48 516.7 L521.98 519.28 L522.48 522.01 L522.99 524.87 L523.49 527.84 L523.99 530.88 L524.49 533.98 L524.99 537.1 L525.49 540.22 L525.99 543.32 L526.49 546.36 L526.99 549.33 L527.49 552.19 L527.99 554.92 L528.49 557.5 L528.99 559.9 L529.49 562.11 L529.99 564.11 L530.49 565.88 L530.99 567.4 L531.49 568.66 L531.99 569.66 L532.49 570.37 L532.99 570.8 L533.49 570.95 L534 570.85 L534.51 570.55 L535.01 570.05 L535.52 569.36 L536.02 568.48 L536.53 567.43 L537.03 566.21 L537.54 564.83 L538.04 563.3 L538.55 561.64 L539.05 559.87 L539.56 558 L540.06 556.04 L540.57 554.02 L541.07 551.94 L541.58 549.85 L542.08 547.74 L542.59 545.64 L543.1 543.57 L543.6 541.55 L544.11 539.59 L544.61 537.71 L545.12 535.94 L545.62 534.28 L546.13 532.76 L546.63 531.38 L547.14 530.15 L547.64 529.1 L548.15 528.22 L548.65 527.53 L549.16 527.04 L549.66 526.74 L550.17 526.64 L550.67 526.72 L551.18 526.96 L551.69 527.37 L552.19 527.93 L552.7 528.64 L553.2 529.5 L553.71 530.49 L554.21 531.61 L554.72 532.85 L555.22 534.2 L555.73 535.64 L556.23 537.17 L556.74 538.76 L557.24 540.4 L557.75 542.09 L558.25 543.79 L558.76 545.51 L559.26 547.21 L559.77 548.9 L560.28 550.54 L560.78 552.13 L561.29 553.65 L561.79 555.1 L562.3 556.44 L562.8 557.69 L563.31 558.81 L563.81 559.8 L564.32 560.66 L564.82 561.37 L565.33 561.93 L565.83 562.34 L566.34 562.58 L566.84 562.66 L567.34 562.59 L567.84 562.37 L568.35 562 L568.85 561.49 L569.35 560.85 L569.85 560.07 L570.35 559.16 L570.85 558.14 L571.35 557.01 L571.85 555.78 L572.35 554.46 L572.85 553.07 L573.35 551.6 L573.85 550.09 L574.35 548.53 L574.85 546.95 L575.35 545.35 L575.85 543.75 L576.35 542.17 L576.85 540.61 L577.35 539.1 L577.85 537.63 L578.35 536.24 L578.85 534.92 L579.35 533.69 L579.86 532.56 L580.36 531.54 L580.86 530.63 L581.36 529.86 L581.86 529.21 L582.36 528.7 L582.86 528.34 L583.36 528.11 L583.86 528.04 L584.37 528.13 L584.89 528.4 L585.41 528.85 L585.92 529.47 L586.44 530.26 L586.95 531.21 L587.47 532.3 L587.99 533.53 L588.5 534.89 L589.02 536.36 L589.53 537.92 L590.05 539.57 L590.57 541.28 L591.08 543.03 L591.6 544.81 L592.11 546.6 L592.63 548.38 L593.15 550.13 L593.66 551.84 L594.18 553.48 L594.69 555.04 L595.21 556.51 L595.73 557.87 L596.24 559.1 L596.76 560.2 L597.27 561.14 L597.79 561.93 L598.31 562.55 L598.82 563 L599.34 563.27 L599.85 563.36 L600.35 563.29 L600.85 563.05 L601.35 562.66 L601.85 562.12 L602.36 561.44 L602.86 560.61 L603.36 559.65 L603.86 558.57 L604.36 557.37 L604.86 556.07 L605.36 554.67 L605.86 553.19 L606.36 551.63 L606.86 550.03 L607.36 548.37 L607.86 546.69 L608.36 545 L608.86 543.31 L609.36 541.63 L609.86 539.97 L610.36 538.37 L610.86 536.81 L611.36 535.33 L611.86 533.93 L612.36 532.63 L612.86 531.43 L613.36 530.35 L613.87 529.39 L614.37 528.56 L614.87 527.88 L615.37 527.34 L615.87 526.95 L616.37 526.71 L616.87 526.64 L617.38 526.75 L617.89 527.08 L618.4 527.63 L618.91 528.39 L619.42 529.35 L619.93 530.51 L620.44 531.86 L620.95 533.37 L621.46 535.04 L621.97 536.86 L622.48 538.79 L622.99 540.83 L623.5 542.96 L624.01 545.15 L624.52 547.38 L625.04 549.63 L625.55 551.89 L626.06 554.12 L626.57 556.31 L627.08 558.44 L627.59 560.48 L628.1 562.41 L628.61 564.22 L629.12 565.9 L629.63 567.41 L630.14 568.76 L630.65 569.92 L631.16 570.88 L631.67 571.64 L632.18 572.19 L632.69 572.52 L633.2 572.63 L633.71 572.51 L634.21 572.13 L634.72 571.51 L635.22 570.65 L635.73 569.56 L636.23 568.25 L636.74 566.72 L637.24 565 L637.75 563.1 L638.26 561.03 L638.76 558.82 L639.27 556.48 L639.77 554.04 L640.28 551.51 L640.78 548.93 L641.29 546.31 L641.79 543.68 L642.3 541.07 L642.8 538.48 L643.31 535.96 L643.81 533.52 L644.32 531.18 L644.82 528.97 L645.33 526.9 L645.83 525 L646.34 523.28 L646.85 521.75 L647.35 520.44 L647.86 519.35 L648.36 518.49 L648.87 517.87 L649.37 517.49 L649.88 517.37 L650.38 517.53 L650.88 518.02 L651.38 518.84 L651.88 519.97 L652.38 521.42 L652.88 523.16 L653.38 525.18 L653.89 527.48 L654.39 530.03 L654.89 532.81 L655.39 535.8 L655.89 538.98 L656.39 542.32 L656.89 545.81 L657.39 549.4 L657.89 553.08 L658.39 556.82 L658.9 560.59 L659.4 564.36 L659.9 568.1 L660.4 571.78 L660.9 575.37 L661.4 578.86 L661.9 582.2 L662.4 585.38 L662.9 588.37 L663.4 591.15 L663.91 593.7 L664.41 596 L664.91 598.02 L665.41 599.76 L665.91 601.21 L666.41 602.34 L666.91 603.16 L667.41 603.65 L667.91 603.81 L668.42 603.61 L668.93 603.02 L669.43 602.03 L669.94 600.66 L670.45 598.9 L670.95 596.77 L671.46 594.29 L671.96 591.46 L672.47 588.29 L672.98 584.81 L673.48 581.04 L673.99 576.99 L674.5 572.69 L675 568.15 L675.51 563.41 L676.02 558.49 L676.52 553.41 L677.03 548.2 L677.54 542.9 L678.04 537.52 L678.55 532.09 L679.06 526.66 L679.56 521.23 L680.07 515.85 L680.58 510.55 L681.08 505.34 L681.59 500.26 L682.09 495.34 L682.6 490.6 L683.11 486.06 L683.61 481.76 L684.12 477.71 L684.63 473.93 L685.13 470.46 L685.64 467.29 L686.15 464.46 L686.65 461.97 L687.16 459.85 L687.67 458.09 L688.17 456.72 L688.68 455.73 L689.19 455.13 L689.69 454.94 L690.2 455.19 L690.71 455.93 L691.22 457.17 L691.73 458.89 L692.24 461.09 L692.75 463.75 L693.27 466.87 L693.78 470.41 L694.29 474.36 L694.8 478.71 L695.31 483.42 L695.82 488.46 L696.33 493.82 L696.84 499.46 L697.35 505.35 L697.86 511.45 L698.37 517.73 L698.88 524.17 L699.39 530.71 L699.9 537.33 L700.41 543.98 L700.92 550.64 L701.43 557.25 L701.94 563.8 L702.45 570.23 L702.96 576.51 L703.47 582.62 L703.98 588.5 L704.5 594.14 L705.01 599.5 L705.52 604.55 L706.03 609.26 L706.54 613.6 L707.05 617.55 L707.56 621.1 L708.07 624.21 L708.58 626.87 L709.09 629.07 L709.6 630.79 L710.11 632.03 L710.62 632.78 L711.13 633.03 L711.64 632.81 L712.14 632.17 L712.65 631.11 L713.16 629.64 L713.66 627.76 L714.17 625.49 L714.67 622.84 L715.18 619.83 L715.69 616.48 L716.19 612.81 L716.7 608.84 L717.2 604.61 L717.71 600.13 L718.22 595.43 L718.72 590.56 L719.23 585.53 L719.73 580.39 L720.24 575.16 L720.75 569.88 L721.25 564.58 L721.76 559.29 L722.27 554.06 L722.77 548.92 L723.28 543.89 L723.78 539.02 L724.29 534.33 L724.8 529.85 L725.3 525.61 L725.81 521.64 L726.31 517.97 L726.82 514.62 L727.33 511.61 L727.83 508.96 L728.34 506.69 L728.84 504.81 L729.35 503.34 L729.86 502.28 L730.36 501.64 L730.87 501.43 L731.38 501.6 L731.9 502.14 L732.42 503.02 L732.93 504.24 L733.45 505.79 L733.96 507.66 L734.48 509.81 L735 512.24 L735.51 514.91 L736.03 517.8 L736.54 520.88 L737.06 524.11 L737.58 527.47 L738.09 530.92 L738.61 534.43 L739.12 537.95 L739.64 541.45 L740.16 544.9 L740.67 548.26 L741.19 551.5 L741.7 554.57 L742.22 557.46 L742.74 560.14 L743.25 562.56 L743.77 564.72 L744.28 566.58 L744.8 568.13 L745.31 569.35 L745.83 570.24 L746.35 570.77 L746.86 570.95 L747.37 570.83 L747.88 570.48 L748.39 569.9 L748.9 569.09 L749.41 568.06 L749.93 566.83 L750.44 565.4 L750.95 563.79 L751.46 562.01 L751.97 560.09 L752.48 558.03 L752.99 555.86 L753.5 553.6 L754.01 551.28 L754.52 548.9 L755.03 546.51 L755.54 544.11 L755.71 543.32" fill="none" stroke="#D95319" stroke-width="1.45" stroke-linejoin="round" />
<rect x="86" y="406.2" width="680.6" height="280.9" fill="none" stroke="#262626" stroke-width="1.55"/>
<line x1="86" y1="687.1" x2="86" y2="679.7" stroke="#262626" stroke-width="1.55" />
<line x1="86" y1="406.2" x2="86" y2="413.6" stroke="#262626" stroke-width="1.55" />
<text x="85.2" y="718.3" font-size="22.7" fill="#262626" text-anchor="middle" font-family='"Liberation Sans", sans-serif' >0</text>
<line x1="256.15" y1="687.1" x2="256.15" y2="679.7" stroke="#262626" stroke-width="1.55" />
<line x1="256.15" y1="406.2" x2="256.15" y2="413.6" stroke="#262626" stroke-width="1.55" />
<text x="255.35" y="718.3" font-size="22.7" fill="#262626" text-anchor="middle" font-family='"Liberation Sans", sans-serif' >5</text>
<line x1="426.3" y1="687.1" x2="426.3" y2="679.7" stroke="#262626" stroke-width="1.55" />
<line x1="426.3" y1="406.2" x2="426.3" y2="413.6" stroke="#262626" stroke-width="1.55" />
<text x="425.5" y="718.3" font-size="22.7" fill="#262626" text-anchor="middle" font-family='"Liberation Sans", sans-serif' >&#8199;0</text><path d="M357 0L357 703L296 703C286 660 250 618 198 607C167 600 136 598 103 598L103 528C152 528 228 536 277 566L277 0Z" fill="#262626" transform="translate(412.88 718.3) scale(0.02270 -0.02270)"/>
<line x1="596.45" y1="687.1" x2="596.45" y2="679.7" stroke="#262626" stroke-width="1.55" />
<line x1="596.45" y1="406.2" x2="596.45" y2="413.6" stroke="#262626" stroke-width="1.55" />
<text x="595.65" y="718.3" font-size="22.7" fill="#262626" text-anchor="middle" font-family='"Liberation Sans", sans-serif' >&#8199;5</text><path d="M357 0L357 703L296 703C286 660 250 618 198 607C167 600 136 598 103 598L103 528C152 528 228 536 277 566L277 0Z" fill="#262626" transform="translate(583.03 718.3) scale(0.02270 -0.02270)"/>
<line x1="766.6" y1="687.1" x2="766.6" y2="679.7" stroke="#262626" stroke-width="1.55" />
<line x1="766.6" y1="406.2" x2="766.6" y2="413.6" stroke="#262626" stroke-width="1.55" />
<text x="765.8" y="718.3" font-size="22.7" fill="#262626" text-anchor="middle" font-family='"Liberation Sans", sans-serif' >20</text>
<line x1="86" y1="687.1" x2="93.4" y2="687.1" stroke="#262626" stroke-width="1.55" />
<line x1="766.6" y1="687.1" x2="759.2" y2="687.1" stroke="#262626" stroke-width="1.55" />
<text x="74.8" y="697.5" font-size="22.7" fill="#262626" text-anchor="end" font-family='"Liberation Sans", sans-serif' >20</text>
<line x1="38.3" y1="690.6" x2="49.6" y2="690.6" stroke="#262626" stroke-width="1.65" />
<line x1="86" y1="616.88" x2="93.4" y2="616.88" stroke="#262626" stroke-width="1.55" />
<line x1="766.6" y1="616.88" x2="759.2" y2="616.88" stroke="#262626" stroke-width="1.55" />
<text x="74.8" y="627.27" font-size="22.7" fill="#262626" text-anchor="end" font-family='"Liberation Sans", sans-serif' >&#8199;0</text><path d="M357 0L357 703L296 703C286 660 250 618 198 607C167 600 136 598 103 598L103 528C152 528 228 536 277 566L277 0Z" fill="#262626" transform="translate(49.55 627.27) scale(0.02270 -0.02270)"/>
<line x1="39.2" y1="620.38" x2="50.8" y2="620.38" stroke="#262626" stroke-width="1.65" />
<line x1="86" y1="546.65" x2="93.4" y2="546.65" stroke="#262626" stroke-width="1.55" />
<line x1="766.6" y1="546.65" x2="759.2" y2="546.65" stroke="#262626" stroke-width="1.55" />
<text x="74.7" y="554.65" font-size="22.7" fill="#262626" text-anchor="end" font-family='"Liberation Sans", sans-serif' >0</text>
<line x1="86" y1="476.42" x2="93.4" y2="476.42" stroke="#262626" stroke-width="1.55" />
<line x1="766.6" y1="476.42" x2="759.2" y2="476.42" stroke="#262626" stroke-width="1.55" />
<text x="74.7" y="484.42" font-size="22.7" fill="#262626" text-anchor="end" font-family='"Liberation Sans", sans-serif' >&#8199;0</text><path d="M357 0L357 703L296 703C286 660 250 618 198 607C167 600 136 598 103 598L103 528C152 528 228 536 277 566L277 0Z" fill="#262626" transform="translate(49.45 484.42) scale(0.02270 -0.02270)"/>
<line x1="86" y1="406.2" x2="93.4" y2="406.2" stroke="#262626" stroke-width="1.55" />
<line x1="766.6" y1="406.2" x2="759.2" y2="406.2" stroke="#262626" stroke-width="1.55" />
<text x="74.7" y="414.2" font-size="22.7" fill="#262626" text-anchor="end" font-family='"Liberation Sans", sans-serif' >20</text>
<text x="427" y="750.4" font-size="24.8" fill="#262626" text-anchor="middle" font-family='"Liberation Sans", sans-serif' >Time (s)</text>
<text x="0" y="0" font-size="24.0" fill="#262626" text-anchor="middle" font-family='"Liberation Sans", sans-serif' transform="translate(28.9 549.0) rotate(-90)">Amplitude</text>
<text x="421.5" y="780.1" font-size="21" fill="#000" text-anchor="middle" font-family='"Liberation Serif", serif'>(<tspan font-weight="bold" font-size="20">b</tspan>)</text>
<line x1="209.76" y1="794" x2="209.76" y2="1086.6" stroke="#e3e3e3" stroke-width="1.9" />
<line x1="351.62" y1="794" x2="351.62" y2="1086.6" stroke="#e3e3e3" stroke-width="1.9" />
<line x1="493.48" y1="794" x2="493.48" y2="1086.6" stroke="#e3e3e3" stroke-width="1.9" />
<line x1="635.34" y1="794" x2="635.34" y2="1086.6" stroke="#e3e3e3" stroke-width="1.9" />
<line x1="777.2" y1="794" x2="777.2" y2="1086.6" stroke="#e3e3e3" stroke-width="1.9" />
<line x1="67.9" y1="1028.08" x2="777.2" y2="1028.08" stroke="#e3e3e3" stroke-width="1.9" />
<line x1="67.9" y1="969.56" x2="777.2" y2="969.56" stroke="#e3e3e3" stroke-width="1.9" />
<line x1="67.9" y1="911.04" x2="777.2" y2="911.04" stroke="#e3e3e3" stroke-width="1.9" />
<line x1="67.9" y1="852.52" x2="777.2" y2="852.52" stroke="#e3e3e3" stroke-width="1.9" />
<line x1="67.9" y1="794" x2="777.2" y2="794" stroke="#e3e3e3" stroke-width="1.9" />
<path d="M67.9 1086.6 L105.33 1086.6 L142.76 1085.43 L180.19 1086.31 L217.62 1085.72 L255.05 1084.26 L292.48 1029.25 L329.91 1083.67 L367.34 1081.92 L404.77 971.32 L442.2 1076.65 L479.63 1076.36 L517.06 916.6 L554.49 1065.71 L591.92 1063.95 L629.35 856.62 L666.78 1057.34 L704.21 1054.41 L741.64 796.93 L777.2 1043.88" fill="none" stroke="#0072BD" stroke-width="1.5" stroke-linejoin="round" />
<path d="M67.9 1086.6 L105.33 1086.01 L142.76 1083.67 L180.19 1085.14 L217.62 1080.46 L255.05 1082.8 L292.48 1028.67 L329.91 1077.82 L367.34 1083.67 L404.77 974.24 L442.2 1072.85 L479.63 1082.5 L517.06 919.82 L554.49 1059.68 L591.92 1069.63 L629.35 856.62 L666.78 1052.66 L704.21 1062.61 L741.64 809.8 L777.2 1040.95" fill="none" stroke="#D95319" stroke-width="1.5" stroke-linejoin="round" />
<line x1="67.3" y1="1086.6" x2="777.8" y2="1086.6" stroke="#262626" stroke-width="1.55" />
<line x1="67.9" y1="793.4" x2="67.9" y2="1086.6" stroke="#262626" stroke-width="1.55" />
<line x1="67.9" y1="1086.6" x2="67.9" y2="1078.8" stroke="#262626" stroke-width="1.55" />
<text x="67.9" y="1119.7" font-size="23" fill="#262626" text-anchor="middle" font-family='"Liberation Sans", sans-serif' >0</text>
<line x1="209.76" y1="1086.6" x2="209.76" y2="1078.8" stroke="#262626" stroke-width="1.55" />
<text x="209.76" y="1119.7" font-size="23" fill="#262626" text-anchor="middle" font-family='"Liberation Sans", sans-serif' >0.2</text>
<line x1="351.62" y1="1086.6" x2="351.62" y2="1078.8" stroke="#262626" stroke-width="1.55" />
<text x="351.62" y="1119.7" font-size="23" fill="#262626" text-anchor="middle" font-family='"Liberation Sans", sans-serif' >0.4</text>
<line x1="493.48" y1="1086.6" x2="493.48" y2="1078.8" stroke="#262626" stroke-width="1.55" />
<text x="493.48" y="1119.7" font-size="23" fill="#262626" text-anchor="middle" font-family='"Liberation Sans", sans-serif' >0.6</text>
<line x1="635.34" y1="1086.6" x2="635.34" y2="1078.8" stroke="#262626" stroke-width="1.55" />
<text x="635.34" y="1119.7" font-size="23" fill="#262626" text-anchor="middle" font-family='"Liberation Sans", sans-serif' >0.8</text>
<line x1="777.2" y1="1086.6" x2="777.2" y2="1078.8" stroke="#262626" stroke-width="1.55" />
<text x="777.2" y="1119.7" font-size="23" fill="#262626" text-anchor="middle" font-family='"Liberation Sans", sans-serif' >&#8199;</text><path d="M357 0L357 703L296 703C286 660 250 618 198 607C167 600 136 598 103 598L103 528C152 528 228 536 277 566L277 0Z" fill="#262626" transform="translate(770.8 1119.7) scale(0.02300 -0.02300)"/>
<line x1="67.9" y1="1086.6" x2="75.7" y2="1086.6" stroke="#262626" stroke-width="1.55" />
<text x="58" y="1094.7" font-size="23" fill="#262626" text-anchor="end" font-family='"Liberation Sans", sans-serif' >0</text>
<line x1="67.9" y1="1028.08" x2="75.7" y2="1028.08" stroke="#262626" stroke-width="1.55" />
<text x="58" y="1036.18" font-size="23" fill="#262626" text-anchor="end" font-family='"Liberation Sans", sans-serif' >&#8199;</text><path d="M357 0L357 703L296 703C286 660 250 618 198 607C167 600 136 598 103 598L103 528C152 528 228 536 277 566L277 0Z" fill="#262626" transform="translate(45.21 1036.18) scale(0.02300 -0.02300)"/>
<line x1="67.9" y1="969.56" x2="75.7" y2="969.56" stroke="#262626" stroke-width="1.55" />
<text x="58" y="977.66" font-size="23" fill="#262626" text-anchor="end" font-family='"Liberation Sans", sans-serif' >2</text>
<line x1="67.9" y1="911.04" x2="75.7" y2="911.04" stroke="#262626" stroke-width="1.55" />
<text x="58" y="919.14" font-size="23" fill="#262626" text-anchor="end" font-family='"Liberation Sans", sans-serif' >3</text>
<line x1="67.9" y1="852.52" x2="75.7" y2="852.52" stroke="#262626" stroke-width="1.55" />
<text x="58" y="860.62" font-size="23" fill="#262626" text-anchor="end" font-family='"Liberation Sans", sans-serif' >4</text>
<line x1="67.9" y1="794" x2="75.7" y2="794" stroke="#262626" stroke-width="1.55" />
<text x="58" y="802.1" font-size="23" fill="#262626" text-anchor="end" font-family='"Liberation Sans", sans-serif' >5</text>
<text x="424.6" y="1152.4" font-size="25.3" fill="#262626" text-anchor="middle" font-family='"Liberation Sans", sans-serif' >Freq (Hz)</text>
<text x="0" y="0" font-size="25.3" fill="#262626" text-anchor="middle" font-family='"Liberation Sans", sans-serif' transform="translate(30.5 941.4) rotate(-90)">Amplitude</text>
<text x="421.5" y="1182.0" font-size="21" fill="#000" text-anchor="middle" font-family='"Liberation Serif", serif'>(<tspan font-weight="bold" font-size="20">c</tspan>)</text>
</svg></body></html>
